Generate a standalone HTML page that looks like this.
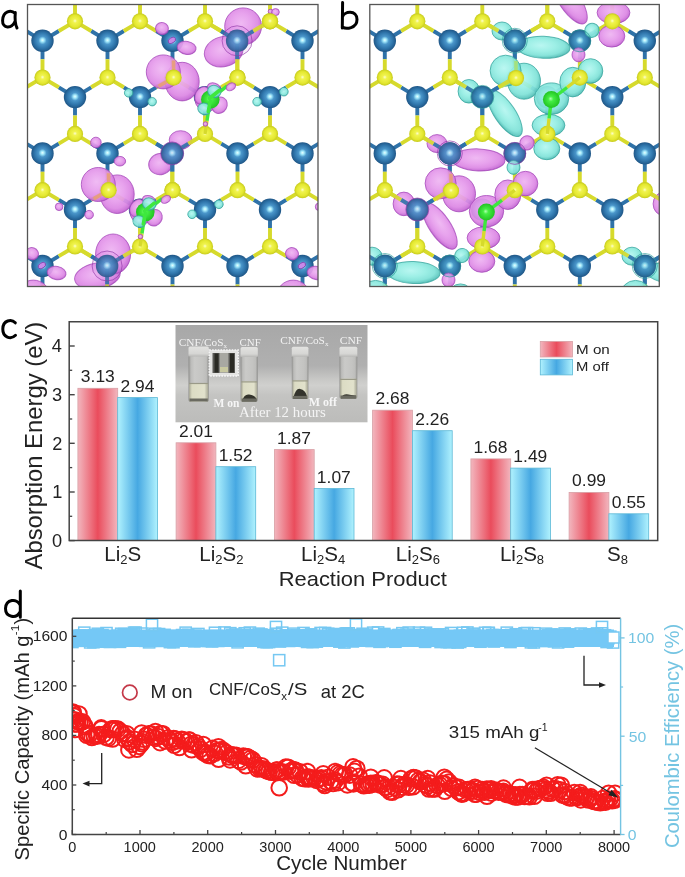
<!DOCTYPE html>
<html><head><meta charset="utf-8"><style>
html,body{margin:0;padding:0;background:#fff;overflow:hidden;}
svg{display:block;will-change:transform;}
text{font-family:"Liberation Sans",sans-serif;}
</style></head><body>
<svg width="685" height="877" viewBox="0 0 685 877">
<defs>
<radialGradient id="gb" cx="0.5" cy="0.5" r="0.5" fx="0.5" fy="0.47">
<stop offset="0" stop-color="#eaffff"/><stop offset="0.15" stop-color="#a2e8fa"/><stop offset="0.36" stop-color="#4a96ca"/><stop offset="0.72" stop-color="#2e74aa"/><stop offset="1" stop-color="#1f5686"/>
</radialGradient>
<radialGradient id="gy" cx="0.5" cy="0.5" r="0.5" fx="0.5" fy="0.47">
<stop offset="0" stop-color="#fcfdd0"/><stop offset="0.25" stop-color="#f0f350"/><stop offset="0.72" stop-color="#e4e830"/><stop offset="1" stop-color="#c6ca1e"/>
</radialGradient>
<radialGradient id="gg" cx="0.5" cy="0.5" r="0.5" fx="0.45" fy="0.45">
<stop offset="0" stop-color="#b0ffb0"/><stop offset="0.3" stop-color="#44ee44"/><stop offset="1" stop-color="#22c422"/>
</radialGradient>
<linearGradient id="gr" x1="0" x2="1" y1="0" y2="0">
<stop offset="0" stop-color="#f2b6be"/><stop offset="0.5" stop-color="#ea4c5c"/><stop offset="1" stop-color="#f2b6be"/>
</linearGradient>
<linearGradient id="gc" x1="0" x2="1" y1="0" y2="0">
<stop offset="0" stop-color="#b0f2fe"/><stop offset="0.5" stop-color="#46a8e2"/><stop offset="1" stop-color="#b0f2fe"/>
</linearGradient>
<radialGradient id="pp" cx="0.45" cy="0.42" r="0.6">
<stop offset="0" stop-color="#eeb4f2"/><stop offset="0.45" stop-color="#e69cec"/><stop offset="0.75" stop-color="#dc88e4"/><stop offset="0.92" stop-color="#c86cd6"/><stop offset="1" stop-color="#a848bc"/>
</radialGradient>
<radialGradient id="pc" cx="0.45" cy="0.42" r="0.6">
<stop offset="0" stop-color="#b4f6f0"/><stop offset="0.45" stop-color="#96eee4"/><stop offset="0.75" stop-color="#80e2d8"/><stop offset="0.92" stop-color="#5cc6be"/><stop offset="1" stop-color="#3aa8a0"/>
</radialGradient>
<clipPath id="ca"><rect x="27.5" y="4.5" width="290.5" height="282"/></clipPath>
<clipPath id="cb"><rect x="369.8" y="4.5" width="289.5" height="282"/></clipPath>
</defs>
<rect width="685" height="877" fill="#fff"/>

<g clip-path="url(#ca)"><g transform="translate(0,0)">
<path d="M-55.0 -15.5L-55.0 2.9M-55.0 -15.5L-71.2 -25.2M-55.0 -15.5L-38.8 -25.2M10.0 -15.5L10.0 2.9M10.0 -15.5L-6.2 -25.2M10.0 -15.5L26.2 -25.2M75.0 -15.5L75.0 2.9M75.0 -15.5L58.8 -25.2M75.0 -15.5L91.2 -25.2M140.0 -15.5L140.0 2.9M140.0 -15.5L123.8 -25.2M140.0 -15.5L156.2 -25.2M205.0 -15.5L205.0 2.9M205.0 -15.5L188.8 -25.2M205.0 -15.5L221.2 -25.2M270.0 -15.5L270.0 2.9M270.0 -15.5L253.8 -25.2M270.0 -15.5L286.2 -25.2M335.0 -15.5L335.0 2.9M335.0 -15.5L318.8 -25.2M335.0 -15.5L351.2 -25.2M400.0 -15.5L400.0 2.9M400.0 -15.5L383.8 -25.2M400.0 -15.5L416.2 -25.2M465.0 -15.5L465.0 2.9M465.0 -15.5L448.8 -25.2M465.0 -15.5L481.2 -25.2M-87.5 40.8L-87.5 59.2M-87.5 40.8L-103.8 31.0M-87.5 40.8L-71.2 31.0M-22.5 40.8L-22.5 59.2M-22.5 40.8L-38.8 31.0M-22.5 40.8L-6.2 31.0M42.5 40.8L42.5 59.2M42.5 40.8L26.2 31.0M42.5 40.8L58.8 31.0M107.5 40.8L107.5 59.2M107.5 40.8L91.2 31.0M107.5 40.8L123.8 31.0M172.5 40.8L172.5 59.2M172.5 40.8L156.2 31.0M172.5 40.8L188.8 31.0M237.5 40.8L237.5 59.2M237.5 40.8L221.2 31.0M237.5 40.8L253.8 31.0M302.5 40.8L302.5 59.2M302.5 40.8L286.2 31.0M302.5 40.8L318.8 31.0M367.5 40.8L367.5 59.2M367.5 40.8L351.2 31.0M367.5 40.8L383.8 31.0M432.5 40.8L432.5 59.2M432.5 40.8L416.2 31.0M432.5 40.8L448.8 31.0M-55.0 97.1L-55.0 115.5M-55.0 97.1L-71.2 87.3M-55.0 97.1L-38.8 87.3M10.0 97.1L10.0 115.5M10.0 97.1L-6.2 87.3M10.0 97.1L26.2 87.3M75.0 97.1L75.0 115.5M75.0 97.1L58.8 87.3M75.0 97.1L91.2 87.3M140.0 97.1L140.0 115.5M140.0 97.1L123.8 87.3M140.0 97.1L156.2 87.3M205.0 97.1L205.0 115.5M205.0 97.1L188.8 87.3M205.0 97.1L221.2 87.3M270.0 97.1L270.0 115.5M270.0 97.1L253.8 87.3M270.0 97.1L286.2 87.3M335.0 97.1L335.0 115.5M335.0 97.1L318.8 87.3M335.0 97.1L351.2 87.3M400.0 97.1L400.0 115.5M400.0 97.1L383.8 87.3M400.0 97.1L416.2 87.3M465.0 97.1L465.0 115.5M465.0 97.1L448.8 87.3M465.0 97.1L481.2 87.3M-87.5 153.4L-87.5 171.8M-87.5 153.4L-103.8 143.6M-87.5 153.4L-71.2 143.6M-22.5 153.4L-22.5 171.8M-22.5 153.4L-38.8 143.6M-22.5 153.4L-6.2 143.6M42.5 153.4L42.5 171.8M42.5 153.4L26.2 143.6M42.5 153.4L58.8 143.6M107.5 153.4L107.5 171.8M107.5 153.4L91.2 143.6M107.5 153.4L123.8 143.6M172.5 153.4L172.5 171.8M172.5 153.4L156.2 143.6M172.5 153.4L188.8 143.6M237.5 153.4L237.5 171.8M237.5 153.4L221.2 143.6M237.5 153.4L253.8 143.6M302.5 153.4L302.5 171.8M302.5 153.4L286.2 143.6M302.5 153.4L318.8 143.6M367.5 153.4L367.5 171.8M367.5 153.4L351.2 143.6M367.5 153.4L383.8 143.6M432.5 153.4L432.5 171.8M432.5 153.4L416.2 143.6M432.5 153.4L448.8 143.6M-55.0 209.7L-55.0 228.1M-55.0 209.7L-71.2 199.9M-55.0 209.7L-38.8 199.9M10.0 209.7L10.0 228.1M10.0 209.7L-6.2 199.9M10.0 209.7L26.2 199.9M75.0 209.7L75.0 228.1M75.0 209.7L58.8 199.9M75.0 209.7L91.2 199.9M140.0 209.7L140.0 228.1M140.0 209.7L123.8 199.9M140.0 209.7L156.2 199.9M205.0 209.7L205.0 228.1M205.0 209.7L188.8 199.9M205.0 209.7L221.2 199.9M270.0 209.7L270.0 228.1M270.0 209.7L253.8 199.9M270.0 209.7L286.2 199.9M335.0 209.7L335.0 228.1M335.0 209.7L318.8 199.9M335.0 209.7L351.2 199.9M400.0 209.7L400.0 228.1M400.0 209.7L383.8 199.9M400.0 209.7L416.2 199.9M465.0 209.7L465.0 228.1M465.0 209.7L448.8 199.9M465.0 209.7L481.2 199.9M-87.5 266.0L-87.5 284.4M-87.5 266.0L-103.8 256.2M-87.5 266.0L-71.2 256.2M-22.5 266.0L-22.5 284.4M-22.5 266.0L-38.8 256.2M-22.5 266.0L-6.2 256.2M42.5 266.0L42.5 284.4M42.5 266.0L26.2 256.2M42.5 266.0L58.8 256.2M107.5 266.0L107.5 284.4M107.5 266.0L91.2 256.2M107.5 266.0L123.8 256.2M172.5 266.0L172.5 284.4M172.5 266.0L156.2 256.2M172.5 266.0L188.8 256.2M237.5 266.0L237.5 284.4M237.5 266.0L221.2 256.2M237.5 266.0L253.8 256.2M302.5 266.0L302.5 284.4M302.5 266.0L286.2 256.2M302.5 266.0L318.8 256.2M367.5 266.0L367.5 284.4M367.5 266.0L351.2 256.2M367.5 266.0L383.8 256.2M432.5 266.0L432.5 284.4M432.5 266.0L416.2 256.2M432.5 266.0L448.8 256.2M-55.0 322.3L-55.0 340.7M-55.0 322.3L-71.2 312.6M-55.0 322.3L-38.8 312.6M10.0 322.3L10.0 340.7M10.0 322.3L-6.2 312.6M10.0 322.3L26.2 312.6M75.0 322.3L75.0 340.7M75.0 322.3L58.8 312.6M75.0 322.3L91.2 312.6M140.0 322.3L140.0 340.7M140.0 322.3L123.8 312.6M140.0 322.3L156.2 312.6M205.0 322.3L205.0 340.7M205.0 322.3L188.8 312.6M205.0 322.3L221.2 312.6M270.0 322.3L270.0 340.7M270.0 322.3L253.8 312.6M270.0 322.3L286.2 312.6M335.0 322.3L335.0 340.7M335.0 322.3L318.8 312.6M335.0 322.3L351.2 312.6M400.0 322.3L400.0 340.7M400.0 322.3L383.8 312.6M400.0 322.3L416.2 312.6M465.0 322.3L465.0 340.7M465.0 322.3L448.8 312.6M465.0 322.3L481.2 312.6" stroke="#2f72a8" stroke-width="3.9" fill="none"/>
<path d="M-55.0 2.9L-55.0 21.3M-71.2 -25.2L-87.5 -35.0M-38.8 -25.2L-22.5 -35.0M10.0 2.9L10.0 21.3M-6.2 -25.2L-22.5 -35.0M26.2 -25.2L42.5 -35.0M75.0 2.9L75.0 21.3M58.8 -25.2L42.5 -35.0M91.2 -25.2L107.5 -35.0M140.0 2.9L140.0 21.3M123.8 -25.2L107.5 -35.0M156.2 -25.2L172.5 -35.0M205.0 2.9L205.0 21.3M188.8 -25.2L172.5 -35.0M221.2 -25.2L237.5 -35.0M270.0 2.9L270.0 21.3M253.8 -25.2L237.5 -35.0M286.2 -25.2L302.5 -35.0M335.0 2.9L335.0 21.3M318.8 -25.2L302.5 -35.0M351.2 -25.2L367.5 -35.0M400.0 2.9L400.0 21.3M383.8 -25.2L367.5 -35.0M416.2 -25.2L432.5 -35.0M465.0 2.9L465.0 21.3M448.8 -25.2L432.5 -35.0M481.2 -25.2L497.5 -35.0M-87.5 59.2L-87.5 77.6M-103.8 31.0L-120.0 21.3M-71.2 31.0L-55.0 21.3M-22.5 59.2L-22.5 77.6M-38.8 31.0L-55.0 21.3M-6.2 31.0L10.0 21.3M42.5 59.2L42.5 77.6M26.2 31.0L10.0 21.3M58.8 31.0L75.0 21.3M107.5 59.2L107.5 77.6M91.2 31.0L75.0 21.3M123.8 31.0L140.0 21.3M172.5 59.2L172.5 77.6M156.2 31.0L140.0 21.3M188.8 31.0L205.0 21.3M237.5 59.2L237.5 77.6M221.2 31.0L205.0 21.3M253.8 31.0L270.0 21.3M302.5 59.2L302.5 77.6M286.2 31.0L270.0 21.3M318.8 31.0L335.0 21.3M367.5 59.2L367.5 77.6M351.2 31.0L335.0 21.3M383.8 31.0L400.0 21.3M432.5 59.2L432.5 77.6M416.2 31.0L400.0 21.3M448.8 31.0L465.0 21.3M-55.0 115.5L-55.0 133.9M-71.2 87.3L-87.5 77.6M-38.8 87.3L-22.5 77.6M10.0 115.5L10.0 133.9M-6.2 87.3L-22.5 77.6M26.2 87.3L42.5 77.6M75.0 115.5L75.0 133.9M58.8 87.3L42.5 77.6M91.2 87.3L107.5 77.6M140.0 115.5L140.0 133.9M123.8 87.3L107.5 77.6M156.2 87.3L172.5 77.6M205.0 115.5L205.0 133.9M188.8 87.3L172.5 77.6M221.2 87.3L237.5 77.6M270.0 115.5L270.0 133.9M253.8 87.3L237.5 77.6M286.2 87.3L302.5 77.6M335.0 115.5L335.0 133.9M318.8 87.3L302.5 77.6M351.2 87.3L367.5 77.6M400.0 115.5L400.0 133.9M383.8 87.3L367.5 77.6M416.2 87.3L432.5 77.6M465.0 115.5L465.0 133.9M448.8 87.3L432.5 77.6M481.2 87.3L497.5 77.6M-87.5 171.8L-87.5 190.2M-103.8 143.6L-120.0 133.9M-71.2 143.6L-55.0 133.9M-22.5 171.8L-22.5 190.2M-38.8 143.6L-55.0 133.9M-6.2 143.6L10.0 133.9M42.5 171.8L42.5 190.2M26.2 143.6L10.0 133.9M58.8 143.6L75.0 133.9M107.5 171.8L107.5 190.2M91.2 143.6L75.0 133.9M123.8 143.6L140.0 133.9M172.5 171.8L172.5 190.2M156.2 143.6L140.0 133.9M188.8 143.6L205.0 133.9M237.5 171.8L237.5 190.2M221.2 143.6L205.0 133.9M253.8 143.6L270.0 133.9M302.5 171.8L302.5 190.2M286.2 143.6L270.0 133.9M318.8 143.6L335.0 133.9M367.5 171.8L367.5 190.2M351.2 143.6L335.0 133.9M383.8 143.6L400.0 133.9M432.5 171.8L432.5 190.2M416.2 143.6L400.0 133.9M448.8 143.6L465.0 133.9M-55.0 228.1L-55.0 246.5M-71.2 199.9L-87.5 190.2M-38.8 199.9L-22.5 190.2M10.0 228.1L10.0 246.5M-6.2 199.9L-22.5 190.2M26.2 199.9L42.5 190.2M75.0 228.1L75.0 246.5M58.8 199.9L42.5 190.2M91.2 199.9L107.5 190.2M140.0 228.1L140.0 246.5M123.8 199.9L107.5 190.2M156.2 199.9L172.5 190.2M205.0 228.1L205.0 246.5M188.8 199.9L172.5 190.2M221.2 199.9L237.5 190.2M270.0 228.1L270.0 246.5M253.8 199.9L237.5 190.2M286.2 199.9L302.5 190.2M335.0 228.1L335.0 246.5M318.8 199.9L302.5 190.2M351.2 199.9L367.5 190.2M400.0 228.1L400.0 246.5M383.8 199.9L367.5 190.2M416.2 199.9L432.5 190.2M465.0 228.1L465.0 246.5M448.8 199.9L432.5 190.2M481.2 199.9L497.5 190.2M-87.5 284.4L-87.5 302.8M-103.8 256.2L-120.0 246.5M-71.2 256.2L-55.0 246.5M-22.5 284.4L-22.5 302.8M-38.8 256.2L-55.0 246.5M-6.2 256.2L10.0 246.5M42.5 284.4L42.5 302.8M26.2 256.2L10.0 246.5M58.8 256.2L75.0 246.5M107.5 284.4L107.5 302.8M91.2 256.2L75.0 246.5M123.8 256.2L140.0 246.5M172.5 284.4L172.5 302.8M156.2 256.2L140.0 246.5M188.8 256.2L205.0 246.5M237.5 284.4L237.5 302.8M221.2 256.2L205.0 246.5M253.8 256.2L270.0 246.5M302.5 284.4L302.5 302.8M286.2 256.2L270.0 246.5M318.8 256.2L335.0 246.5M367.5 284.4L367.5 302.8M351.2 256.2L335.0 246.5M383.8 256.2L400.0 246.5M432.5 284.4L432.5 302.8M416.2 256.2L400.0 246.5M448.8 256.2L465.0 246.5M-55.0 340.7L-55.0 359.1M-71.2 312.6L-87.5 302.8M-38.8 312.6L-22.5 302.8M10.0 340.7L10.0 359.1M-6.2 312.6L-22.5 302.8M26.2 312.6L42.5 302.8M75.0 340.7L75.0 359.1M58.8 312.6L42.5 302.8M91.2 312.6L107.5 302.8M140.0 340.7L140.0 359.1M123.8 312.6L107.5 302.8M156.2 312.6L172.5 302.8M205.0 340.7L205.0 359.1M188.8 312.6L172.5 302.8M221.2 312.6L237.5 302.8M270.0 340.7L270.0 359.1M253.8 312.6L237.5 302.8M286.2 312.6L302.5 302.8M335.0 340.7L335.0 359.1M318.8 312.6L302.5 302.8M351.2 312.6L367.5 302.8M400.0 340.7L400.0 359.1M383.8 312.6L367.5 302.8M416.2 312.6L432.5 302.8M465.0 340.7L465.0 359.1M448.8 312.6L432.5 302.8M481.2 312.6L497.5 302.8" stroke="#d6da2c" stroke-width="3.9" fill="none"/>
<circle cx="-87.5" cy="-35.0" r="8.1" fill="url(#gy)" fill-opacity="1"/>
<circle cx="-22.5" cy="-35.0" r="8.1" fill="url(#gy)" fill-opacity="1"/>
<circle cx="42.5" cy="-35.0" r="8.1" fill="url(#gy)" fill-opacity="1"/>
<circle cx="107.5" cy="-35.0" r="8.1" fill="url(#gy)" fill-opacity="1"/>
<circle cx="172.5" cy="-35.0" r="8.1" fill="url(#gy)" fill-opacity="1"/>
<circle cx="237.5" cy="-35.0" r="8.1" fill="url(#gy)" fill-opacity="1"/>
<circle cx="302.5" cy="-35.0" r="8.1" fill="url(#gy)" fill-opacity="1"/>
<circle cx="367.5" cy="-35.0" r="8.1" fill="url(#gy)" fill-opacity="1"/>
<circle cx="432.5" cy="-35.0" r="8.1" fill="url(#gy)" fill-opacity="1"/>
<circle cx="-55.0" cy="21.3" r="8.1" fill="url(#gy)" fill-opacity="1"/>
<circle cx="10.0" cy="21.3" r="8.1" fill="url(#gy)" fill-opacity="1"/>
<circle cx="75.0" cy="21.3" r="8.1" fill="url(#gy)" fill-opacity="1"/>
<circle cx="140.0" cy="21.3" r="8.1" fill="url(#gy)" fill-opacity="1"/>
<circle cx="205.0" cy="21.3" r="8.1" fill="url(#gy)" fill-opacity="1"/>
<circle cx="270.0" cy="21.3" r="8.1" fill="url(#gy)" fill-opacity="1"/>
<circle cx="335.0" cy="21.3" r="8.1" fill="url(#gy)" fill-opacity="1"/>
<circle cx="400.0" cy="21.3" r="8.1" fill="url(#gy)" fill-opacity="1"/>
<circle cx="465.0" cy="21.3" r="8.1" fill="url(#gy)" fill-opacity="1"/>
<circle cx="-87.5" cy="77.6" r="8.1" fill="url(#gy)" fill-opacity="1"/>
<circle cx="-22.5" cy="77.6" r="8.1" fill="url(#gy)" fill-opacity="1"/>
<circle cx="42.5" cy="77.6" r="8.1" fill="url(#gy)" fill-opacity="1"/>
<circle cx="107.5" cy="77.6" r="8.1" fill="url(#gy)" fill-opacity="1"/>
<circle cx="172.5" cy="77.6" r="8.1" fill="url(#gy)" fill-opacity="1"/>
<circle cx="237.5" cy="77.6" r="8.1" fill="url(#gy)" fill-opacity="1"/>
<circle cx="302.5" cy="77.6" r="8.1" fill="url(#gy)" fill-opacity="1"/>
<circle cx="367.5" cy="77.6" r="8.1" fill="url(#gy)" fill-opacity="1"/>
<circle cx="432.5" cy="77.6" r="8.1" fill="url(#gy)" fill-opacity="1"/>
<circle cx="-55.0" cy="133.9" r="8.1" fill="url(#gy)" fill-opacity="1"/>
<circle cx="10.0" cy="133.9" r="8.1" fill="url(#gy)" fill-opacity="1"/>
<circle cx="75.0" cy="133.9" r="8.1" fill="url(#gy)" fill-opacity="1"/>
<circle cx="140.0" cy="133.9" r="8.1" fill="url(#gy)" fill-opacity="1"/>
<circle cx="205.0" cy="133.9" r="8.1" fill="url(#gy)" fill-opacity="1"/>
<circle cx="270.0" cy="133.9" r="8.1" fill="url(#gy)" fill-opacity="1"/>
<circle cx="335.0" cy="133.9" r="8.1" fill="url(#gy)" fill-opacity="1"/>
<circle cx="400.0" cy="133.9" r="8.1" fill="url(#gy)" fill-opacity="1"/>
<circle cx="465.0" cy="133.9" r="8.1" fill="url(#gy)" fill-opacity="1"/>
<circle cx="-87.5" cy="190.2" r="8.1" fill="url(#gy)" fill-opacity="1"/>
<circle cx="-22.5" cy="190.2" r="8.1" fill="url(#gy)" fill-opacity="1"/>
<circle cx="42.5" cy="190.2" r="8.1" fill="url(#gy)" fill-opacity="1"/>
<circle cx="107.5" cy="190.2" r="8.1" fill="url(#gy)" fill-opacity="1"/>
<circle cx="172.5" cy="190.2" r="8.1" fill="url(#gy)" fill-opacity="1"/>
<circle cx="237.5" cy="190.2" r="8.1" fill="url(#gy)" fill-opacity="1"/>
<circle cx="302.5" cy="190.2" r="8.1" fill="url(#gy)" fill-opacity="1"/>
<circle cx="367.5" cy="190.2" r="8.1" fill="url(#gy)" fill-opacity="1"/>
<circle cx="432.5" cy="190.2" r="8.1" fill="url(#gy)" fill-opacity="1"/>
<circle cx="-55.0" cy="246.5" r="8.1" fill="url(#gy)" fill-opacity="1"/>
<circle cx="10.0" cy="246.5" r="8.1" fill="url(#gy)" fill-opacity="1"/>
<circle cx="75.0" cy="246.5" r="8.1" fill="url(#gy)" fill-opacity="1"/>
<circle cx="140.0" cy="246.5" r="8.1" fill="url(#gy)" fill-opacity="1"/>
<circle cx="205.0" cy="246.5" r="8.1" fill="url(#gy)" fill-opacity="1"/>
<circle cx="270.0" cy="246.5" r="8.1" fill="url(#gy)" fill-opacity="1"/>
<circle cx="335.0" cy="246.5" r="8.1" fill="url(#gy)" fill-opacity="1"/>
<circle cx="400.0" cy="246.5" r="8.1" fill="url(#gy)" fill-opacity="1"/>
<circle cx="465.0" cy="246.5" r="8.1" fill="url(#gy)" fill-opacity="1"/>
<circle cx="-87.5" cy="302.8" r="8.1" fill="url(#gy)" fill-opacity="1"/>
<circle cx="-22.5" cy="302.8" r="8.1" fill="url(#gy)" fill-opacity="1"/>
<circle cx="42.5" cy="302.8" r="8.1" fill="url(#gy)" fill-opacity="1"/>
<circle cx="107.5" cy="302.8" r="8.1" fill="url(#gy)" fill-opacity="1"/>
<circle cx="172.5" cy="302.8" r="8.1" fill="url(#gy)" fill-opacity="1"/>
<circle cx="237.5" cy="302.8" r="8.1" fill="url(#gy)" fill-opacity="1"/>
<circle cx="302.5" cy="302.8" r="8.1" fill="url(#gy)" fill-opacity="1"/>
<circle cx="367.5" cy="302.8" r="8.1" fill="url(#gy)" fill-opacity="1"/>
<circle cx="432.5" cy="302.8" r="8.1" fill="url(#gy)" fill-opacity="1"/>
<circle cx="-55.0" cy="359.1" r="8.1" fill="url(#gy)" fill-opacity="1"/>
<circle cx="10.0" cy="359.1" r="8.1" fill="url(#gy)" fill-opacity="1"/>
<circle cx="75.0" cy="359.1" r="8.1" fill="url(#gy)" fill-opacity="1"/>
<circle cx="140.0" cy="359.1" r="8.1" fill="url(#gy)" fill-opacity="1"/>
<circle cx="205.0" cy="359.1" r="8.1" fill="url(#gy)" fill-opacity="1"/>
<circle cx="270.0" cy="359.1" r="8.1" fill="url(#gy)" fill-opacity="1"/>
<circle cx="335.0" cy="359.1" r="8.1" fill="url(#gy)" fill-opacity="1"/>
<circle cx="400.0" cy="359.1" r="8.1" fill="url(#gy)" fill-opacity="1"/>
<circle cx="465.0" cy="359.1" r="8.1" fill="url(#gy)" fill-opacity="1"/>
<circle cx="-55.0" cy="-15.5" r="11.2" fill="url(#gb)" fill-opacity="1"/>
<circle cx="10.0" cy="-15.5" r="11.2" fill="url(#gb)" fill-opacity="1"/>
<circle cx="75.0" cy="-15.5" r="11.2" fill="url(#gb)" fill-opacity="1"/>
<circle cx="140.0" cy="-15.5" r="11.2" fill="url(#gb)" fill-opacity="1"/>
<circle cx="205.0" cy="-15.5" r="11.2" fill="url(#gb)" fill-opacity="1"/>
<circle cx="270.0" cy="-15.5" r="11.2" fill="url(#gb)" fill-opacity="1"/>
<circle cx="335.0" cy="-15.5" r="11.2" fill="url(#gb)" fill-opacity="1"/>
<circle cx="400.0" cy="-15.5" r="11.2" fill="url(#gb)" fill-opacity="1"/>
<circle cx="465.0" cy="-15.5" r="11.2" fill="url(#gb)" fill-opacity="1"/>
<circle cx="-87.5" cy="40.8" r="11.2" fill="url(#gb)" fill-opacity="1"/>
<circle cx="-22.5" cy="40.8" r="11.2" fill="url(#gb)" fill-opacity="1"/>
<circle cx="42.5" cy="40.8" r="11.2" fill="url(#gb)" fill-opacity="1"/>
<circle cx="107.5" cy="40.8" r="11.2" fill="url(#gb)" fill-opacity="1"/>
<circle cx="172.5" cy="40.8" r="11.2" fill="url(#gb)" fill-opacity="1"/>
<circle cx="237.5" cy="40.8" r="11.2" fill="url(#gb)" fill-opacity="1"/>
<circle cx="302.5" cy="40.8" r="11.2" fill="url(#gb)" fill-opacity="1"/>
<circle cx="367.5" cy="40.8" r="11.2" fill="url(#gb)" fill-opacity="1"/>
<circle cx="432.5" cy="40.8" r="11.2" fill="url(#gb)" fill-opacity="1"/>
<circle cx="-55.0" cy="97.1" r="11.2" fill="url(#gb)" fill-opacity="1"/>
<circle cx="10.0" cy="97.1" r="11.2" fill="url(#gb)" fill-opacity="1"/>
<circle cx="75.0" cy="97.1" r="11.2" fill="url(#gb)" fill-opacity="1"/>
<circle cx="140.0" cy="97.1" r="11.2" fill="url(#gb)" fill-opacity="1"/>
<circle cx="205.0" cy="97.1" r="11.2" fill="url(#gb)" fill-opacity="1"/>
<circle cx="270.0" cy="97.1" r="11.2" fill="url(#gb)" fill-opacity="1"/>
<circle cx="335.0" cy="97.1" r="11.2" fill="url(#gb)" fill-opacity="1"/>
<circle cx="400.0" cy="97.1" r="11.2" fill="url(#gb)" fill-opacity="1"/>
<circle cx="465.0" cy="97.1" r="11.2" fill="url(#gb)" fill-opacity="1"/>
<circle cx="-87.5" cy="153.4" r="11.2" fill="url(#gb)" fill-opacity="1"/>
<circle cx="-22.5" cy="153.4" r="11.2" fill="url(#gb)" fill-opacity="1"/>
<circle cx="42.5" cy="153.4" r="11.2" fill="url(#gb)" fill-opacity="1"/>
<circle cx="107.5" cy="153.4" r="11.2" fill="url(#gb)" fill-opacity="1"/>
<circle cx="172.5" cy="153.4" r="11.2" fill="url(#gb)" fill-opacity="1"/>
<circle cx="237.5" cy="153.4" r="11.2" fill="url(#gb)" fill-opacity="1"/>
<circle cx="302.5" cy="153.4" r="11.2" fill="url(#gb)" fill-opacity="1"/>
<circle cx="367.5" cy="153.4" r="11.2" fill="url(#gb)" fill-opacity="1"/>
<circle cx="432.5" cy="153.4" r="11.2" fill="url(#gb)" fill-opacity="1"/>
<circle cx="-55.0" cy="209.7" r="11.2" fill="url(#gb)" fill-opacity="1"/>
<circle cx="10.0" cy="209.7" r="11.2" fill="url(#gb)" fill-opacity="1"/>
<circle cx="75.0" cy="209.7" r="11.2" fill="url(#gb)" fill-opacity="1"/>
<circle cx="140.0" cy="209.7" r="11.2" fill="url(#gb)" fill-opacity="1"/>
<circle cx="205.0" cy="209.7" r="11.2" fill="url(#gb)" fill-opacity="1"/>
<circle cx="270.0" cy="209.7" r="11.2" fill="url(#gb)" fill-opacity="1"/>
<circle cx="335.0" cy="209.7" r="11.2" fill="url(#gb)" fill-opacity="1"/>
<circle cx="400.0" cy="209.7" r="11.2" fill="url(#gb)" fill-opacity="1"/>
<circle cx="465.0" cy="209.7" r="11.2" fill="url(#gb)" fill-opacity="1"/>
<circle cx="-87.5" cy="266.0" r="11.2" fill="url(#gb)" fill-opacity="1"/>
<circle cx="-22.5" cy="266.0" r="11.2" fill="url(#gb)" fill-opacity="1"/>
<circle cx="42.5" cy="266.0" r="11.2" fill="url(#gb)" fill-opacity="1"/>
<circle cx="107.5" cy="266.0" r="11.2" fill="url(#gb)" fill-opacity="1"/>
<circle cx="172.5" cy="266.0" r="11.2" fill="url(#gb)" fill-opacity="1"/>
<circle cx="237.5" cy="266.0" r="11.2" fill="url(#gb)" fill-opacity="1"/>
<circle cx="302.5" cy="266.0" r="11.2" fill="url(#gb)" fill-opacity="1"/>
<circle cx="367.5" cy="266.0" r="11.2" fill="url(#gb)" fill-opacity="1"/>
<circle cx="432.5" cy="266.0" r="11.2" fill="url(#gb)" fill-opacity="1"/>
<circle cx="-55.0" cy="322.3" r="11.2" fill="url(#gb)" fill-opacity="1"/>
<circle cx="10.0" cy="322.3" r="11.2" fill="url(#gb)" fill-opacity="1"/>
<circle cx="75.0" cy="322.3" r="11.2" fill="url(#gb)" fill-opacity="1"/>
<circle cx="140.0" cy="322.3" r="11.2" fill="url(#gb)" fill-opacity="1"/>
<circle cx="205.0" cy="322.3" r="11.2" fill="url(#gb)" fill-opacity="1"/>
<circle cx="270.0" cy="322.3" r="11.2" fill="url(#gb)" fill-opacity="1"/>
<circle cx="335.0" cy="322.3" r="11.2" fill="url(#gb)" fill-opacity="1"/>
<circle cx="400.0" cy="322.3" r="11.2" fill="url(#gb)" fill-opacity="1"/>
<circle cx="465.0" cy="322.3" r="11.2" fill="url(#gb)" fill-opacity="1"/>
</g></g>
<g clip-path="url(#cb)"><g transform="translate(342.3,0)">
<path d="M-55.0 -15.5L-55.0 2.9M-55.0 -15.5L-71.2 -25.2M-55.0 -15.5L-38.8 -25.2M10.0 -15.5L10.0 2.9M10.0 -15.5L-6.2 -25.2M10.0 -15.5L26.2 -25.2M75.0 -15.5L75.0 2.9M75.0 -15.5L58.8 -25.2M75.0 -15.5L91.2 -25.2M140.0 -15.5L140.0 2.9M140.0 -15.5L123.8 -25.2M140.0 -15.5L156.2 -25.2M205.0 -15.5L205.0 2.9M205.0 -15.5L188.8 -25.2M205.0 -15.5L221.2 -25.2M270.0 -15.5L270.0 2.9M270.0 -15.5L253.8 -25.2M270.0 -15.5L286.2 -25.2M335.0 -15.5L335.0 2.9M335.0 -15.5L318.8 -25.2M335.0 -15.5L351.2 -25.2M400.0 -15.5L400.0 2.9M400.0 -15.5L383.8 -25.2M400.0 -15.5L416.2 -25.2M465.0 -15.5L465.0 2.9M465.0 -15.5L448.8 -25.2M465.0 -15.5L481.2 -25.2M-87.5 40.8L-87.5 59.2M-87.5 40.8L-103.8 31.0M-87.5 40.8L-71.2 31.0M-22.5 40.8L-22.5 59.2M-22.5 40.8L-38.8 31.0M-22.5 40.8L-6.2 31.0M42.5 40.8L42.5 59.2M42.5 40.8L26.2 31.0M42.5 40.8L58.8 31.0M107.5 40.8L107.5 59.2M107.5 40.8L91.2 31.0M107.5 40.8L123.8 31.0M172.5 40.8L172.5 59.2M172.5 40.8L156.2 31.0M172.5 40.8L188.8 31.0M237.5 40.8L237.5 59.2M237.5 40.8L221.2 31.0M237.5 40.8L253.8 31.0M302.5 40.8L302.5 59.2M302.5 40.8L286.2 31.0M302.5 40.8L318.8 31.0M367.5 40.8L367.5 59.2M367.5 40.8L351.2 31.0M367.5 40.8L383.8 31.0M432.5 40.8L432.5 59.2M432.5 40.8L416.2 31.0M432.5 40.8L448.8 31.0M-55.0 97.1L-55.0 115.5M-55.0 97.1L-71.2 87.3M-55.0 97.1L-38.8 87.3M10.0 97.1L10.0 115.5M10.0 97.1L-6.2 87.3M10.0 97.1L26.2 87.3M75.0 97.1L75.0 115.5M75.0 97.1L58.8 87.3M75.0 97.1L91.2 87.3M140.0 97.1L140.0 115.5M140.0 97.1L123.8 87.3M140.0 97.1L156.2 87.3M205.0 97.1L205.0 115.5M205.0 97.1L188.8 87.3M205.0 97.1L221.2 87.3M270.0 97.1L270.0 115.5M270.0 97.1L253.8 87.3M270.0 97.1L286.2 87.3M335.0 97.1L335.0 115.5M335.0 97.1L318.8 87.3M335.0 97.1L351.2 87.3M400.0 97.1L400.0 115.5M400.0 97.1L383.8 87.3M400.0 97.1L416.2 87.3M465.0 97.1L465.0 115.5M465.0 97.1L448.8 87.3M465.0 97.1L481.2 87.3M-87.5 153.4L-87.5 171.8M-87.5 153.4L-103.8 143.6M-87.5 153.4L-71.2 143.6M-22.5 153.4L-22.5 171.8M-22.5 153.4L-38.8 143.6M-22.5 153.4L-6.2 143.6M42.5 153.4L42.5 171.8M42.5 153.4L26.2 143.6M42.5 153.4L58.8 143.6M107.5 153.4L107.5 171.8M107.5 153.4L91.2 143.6M107.5 153.4L123.8 143.6M172.5 153.4L172.5 171.8M172.5 153.4L156.2 143.6M172.5 153.4L188.8 143.6M237.5 153.4L237.5 171.8M237.5 153.4L221.2 143.6M237.5 153.4L253.8 143.6M302.5 153.4L302.5 171.8M302.5 153.4L286.2 143.6M302.5 153.4L318.8 143.6M367.5 153.4L367.5 171.8M367.5 153.4L351.2 143.6M367.5 153.4L383.8 143.6M432.5 153.4L432.5 171.8M432.5 153.4L416.2 143.6M432.5 153.4L448.8 143.6M-55.0 209.7L-55.0 228.1M-55.0 209.7L-71.2 199.9M-55.0 209.7L-38.8 199.9M10.0 209.7L10.0 228.1M10.0 209.7L-6.2 199.9M10.0 209.7L26.2 199.9M75.0 209.7L75.0 228.1M75.0 209.7L58.8 199.9M75.0 209.7L91.2 199.9M140.0 209.7L140.0 228.1M140.0 209.7L123.8 199.9M140.0 209.7L156.2 199.9M205.0 209.7L205.0 228.1M205.0 209.7L188.8 199.9M205.0 209.7L221.2 199.9M270.0 209.7L270.0 228.1M270.0 209.7L253.8 199.9M270.0 209.7L286.2 199.9M335.0 209.7L335.0 228.1M335.0 209.7L318.8 199.9M335.0 209.7L351.2 199.9M400.0 209.7L400.0 228.1M400.0 209.7L383.8 199.9M400.0 209.7L416.2 199.9M465.0 209.7L465.0 228.1M465.0 209.7L448.8 199.9M465.0 209.7L481.2 199.9M-87.5 266.0L-87.5 284.4M-87.5 266.0L-103.8 256.2M-87.5 266.0L-71.2 256.2M-22.5 266.0L-22.5 284.4M-22.5 266.0L-38.8 256.2M-22.5 266.0L-6.2 256.2M42.5 266.0L42.5 284.4M42.5 266.0L26.2 256.2M42.5 266.0L58.8 256.2M107.5 266.0L107.5 284.4M107.5 266.0L91.2 256.2M107.5 266.0L123.8 256.2M172.5 266.0L172.5 284.4M172.5 266.0L156.2 256.2M172.5 266.0L188.8 256.2M237.5 266.0L237.5 284.4M237.5 266.0L221.2 256.2M237.5 266.0L253.8 256.2M302.5 266.0L302.5 284.4M302.5 266.0L286.2 256.2M302.5 266.0L318.8 256.2M367.5 266.0L367.5 284.4M367.5 266.0L351.2 256.2M367.5 266.0L383.8 256.2M432.5 266.0L432.5 284.4M432.5 266.0L416.2 256.2M432.5 266.0L448.8 256.2M-55.0 322.3L-55.0 340.7M-55.0 322.3L-71.2 312.6M-55.0 322.3L-38.8 312.6M10.0 322.3L10.0 340.7M10.0 322.3L-6.2 312.6M10.0 322.3L26.2 312.6M75.0 322.3L75.0 340.7M75.0 322.3L58.8 312.6M75.0 322.3L91.2 312.6M140.0 322.3L140.0 340.7M140.0 322.3L123.8 312.6M140.0 322.3L156.2 312.6M205.0 322.3L205.0 340.7M205.0 322.3L188.8 312.6M205.0 322.3L221.2 312.6M270.0 322.3L270.0 340.7M270.0 322.3L253.8 312.6M270.0 322.3L286.2 312.6M335.0 322.3L335.0 340.7M335.0 322.3L318.8 312.6M335.0 322.3L351.2 312.6M400.0 322.3L400.0 340.7M400.0 322.3L383.8 312.6M400.0 322.3L416.2 312.6M465.0 322.3L465.0 340.7M465.0 322.3L448.8 312.6M465.0 322.3L481.2 312.6" stroke="#2f72a8" stroke-width="3.9" fill="none"/>
<path d="M-55.0 2.9L-55.0 21.3M-71.2 -25.2L-87.5 -35.0M-38.8 -25.2L-22.5 -35.0M10.0 2.9L10.0 21.3M-6.2 -25.2L-22.5 -35.0M26.2 -25.2L42.5 -35.0M75.0 2.9L75.0 21.3M58.8 -25.2L42.5 -35.0M91.2 -25.2L107.5 -35.0M140.0 2.9L140.0 21.3M123.8 -25.2L107.5 -35.0M156.2 -25.2L172.5 -35.0M205.0 2.9L205.0 21.3M188.8 -25.2L172.5 -35.0M221.2 -25.2L237.5 -35.0M270.0 2.9L270.0 21.3M253.8 -25.2L237.5 -35.0M286.2 -25.2L302.5 -35.0M335.0 2.9L335.0 21.3M318.8 -25.2L302.5 -35.0M351.2 -25.2L367.5 -35.0M400.0 2.9L400.0 21.3M383.8 -25.2L367.5 -35.0M416.2 -25.2L432.5 -35.0M465.0 2.9L465.0 21.3M448.8 -25.2L432.5 -35.0M481.2 -25.2L497.5 -35.0M-87.5 59.2L-87.5 77.6M-103.8 31.0L-120.0 21.3M-71.2 31.0L-55.0 21.3M-22.5 59.2L-22.5 77.6M-38.8 31.0L-55.0 21.3M-6.2 31.0L10.0 21.3M42.5 59.2L42.5 77.6M26.2 31.0L10.0 21.3M58.8 31.0L75.0 21.3M107.5 59.2L107.5 77.6M91.2 31.0L75.0 21.3M123.8 31.0L140.0 21.3M172.5 59.2L172.5 77.6M156.2 31.0L140.0 21.3M188.8 31.0L205.0 21.3M237.5 59.2L237.5 77.6M221.2 31.0L205.0 21.3M253.8 31.0L270.0 21.3M302.5 59.2L302.5 77.6M286.2 31.0L270.0 21.3M318.8 31.0L335.0 21.3M367.5 59.2L367.5 77.6M351.2 31.0L335.0 21.3M383.8 31.0L400.0 21.3M432.5 59.2L432.5 77.6M416.2 31.0L400.0 21.3M448.8 31.0L465.0 21.3M-55.0 115.5L-55.0 133.9M-71.2 87.3L-87.5 77.6M-38.8 87.3L-22.5 77.6M10.0 115.5L10.0 133.9M-6.2 87.3L-22.5 77.6M26.2 87.3L42.5 77.6M75.0 115.5L75.0 133.9M58.8 87.3L42.5 77.6M91.2 87.3L107.5 77.6M140.0 115.5L140.0 133.9M123.8 87.3L107.5 77.6M156.2 87.3L172.5 77.6M205.0 115.5L205.0 133.9M188.8 87.3L172.5 77.6M221.2 87.3L237.5 77.6M270.0 115.5L270.0 133.9M253.8 87.3L237.5 77.6M286.2 87.3L302.5 77.6M335.0 115.5L335.0 133.9M318.8 87.3L302.5 77.6M351.2 87.3L367.5 77.6M400.0 115.5L400.0 133.9M383.8 87.3L367.5 77.6M416.2 87.3L432.5 77.6M465.0 115.5L465.0 133.9M448.8 87.3L432.5 77.6M481.2 87.3L497.5 77.6M-87.5 171.8L-87.5 190.2M-103.8 143.6L-120.0 133.9M-71.2 143.6L-55.0 133.9M-22.5 171.8L-22.5 190.2M-38.8 143.6L-55.0 133.9M-6.2 143.6L10.0 133.9M42.5 171.8L42.5 190.2M26.2 143.6L10.0 133.9M58.8 143.6L75.0 133.9M107.5 171.8L107.5 190.2M91.2 143.6L75.0 133.9M123.8 143.6L140.0 133.9M172.5 171.8L172.5 190.2M156.2 143.6L140.0 133.9M188.8 143.6L205.0 133.9M237.5 171.8L237.5 190.2M221.2 143.6L205.0 133.9M253.8 143.6L270.0 133.9M302.5 171.8L302.5 190.2M286.2 143.6L270.0 133.9M318.8 143.6L335.0 133.9M367.5 171.8L367.5 190.2M351.2 143.6L335.0 133.9M383.8 143.6L400.0 133.9M432.5 171.8L432.5 190.2M416.2 143.6L400.0 133.9M448.8 143.6L465.0 133.9M-55.0 228.1L-55.0 246.5M-71.2 199.9L-87.5 190.2M-38.8 199.9L-22.5 190.2M10.0 228.1L10.0 246.5M-6.2 199.9L-22.5 190.2M26.2 199.9L42.5 190.2M75.0 228.1L75.0 246.5M58.8 199.9L42.5 190.2M91.2 199.9L107.5 190.2M140.0 228.1L140.0 246.5M123.8 199.9L107.5 190.2M156.2 199.9L172.5 190.2M205.0 228.1L205.0 246.5M188.8 199.9L172.5 190.2M221.2 199.9L237.5 190.2M270.0 228.1L270.0 246.5M253.8 199.9L237.5 190.2M286.2 199.9L302.5 190.2M335.0 228.1L335.0 246.5M318.8 199.9L302.5 190.2M351.2 199.9L367.5 190.2M400.0 228.1L400.0 246.5M383.8 199.9L367.5 190.2M416.2 199.9L432.5 190.2M465.0 228.1L465.0 246.5M448.8 199.9L432.5 190.2M481.2 199.9L497.5 190.2M-87.5 284.4L-87.5 302.8M-103.8 256.2L-120.0 246.5M-71.2 256.2L-55.0 246.5M-22.5 284.4L-22.5 302.8M-38.8 256.2L-55.0 246.5M-6.2 256.2L10.0 246.5M42.5 284.4L42.5 302.8M26.2 256.2L10.0 246.5M58.8 256.2L75.0 246.5M107.5 284.4L107.5 302.8M91.2 256.2L75.0 246.5M123.8 256.2L140.0 246.5M172.5 284.4L172.5 302.8M156.2 256.2L140.0 246.5M188.8 256.2L205.0 246.5M237.5 284.4L237.5 302.8M221.2 256.2L205.0 246.5M253.8 256.2L270.0 246.5M302.5 284.4L302.5 302.8M286.2 256.2L270.0 246.5M318.8 256.2L335.0 246.5M367.5 284.4L367.5 302.8M351.2 256.2L335.0 246.5M383.8 256.2L400.0 246.5M432.5 284.4L432.5 302.8M416.2 256.2L400.0 246.5M448.8 256.2L465.0 246.5M-55.0 340.7L-55.0 359.1M-71.2 312.6L-87.5 302.8M-38.8 312.6L-22.5 302.8M10.0 340.7L10.0 359.1M-6.2 312.6L-22.5 302.8M26.2 312.6L42.5 302.8M75.0 340.7L75.0 359.1M58.8 312.6L42.5 302.8M91.2 312.6L107.5 302.8M140.0 340.7L140.0 359.1M123.8 312.6L107.5 302.8M156.2 312.6L172.5 302.8M205.0 340.7L205.0 359.1M188.8 312.6L172.5 302.8M221.2 312.6L237.5 302.8M270.0 340.7L270.0 359.1M253.8 312.6L237.5 302.8M286.2 312.6L302.5 302.8M335.0 340.7L335.0 359.1M318.8 312.6L302.5 302.8M351.2 312.6L367.5 302.8M400.0 340.7L400.0 359.1M383.8 312.6L367.5 302.8M416.2 312.6L432.5 302.8M465.0 340.7L465.0 359.1M448.8 312.6L432.5 302.8M481.2 312.6L497.5 302.8" stroke="#d6da2c" stroke-width="3.9" fill="none"/>
<circle cx="-87.5" cy="-35.0" r="8.1" fill="url(#gy)" fill-opacity="1"/>
<circle cx="-22.5" cy="-35.0" r="8.1" fill="url(#gy)" fill-opacity="1"/>
<circle cx="42.5" cy="-35.0" r="8.1" fill="url(#gy)" fill-opacity="1"/>
<circle cx="107.5" cy="-35.0" r="8.1" fill="url(#gy)" fill-opacity="1"/>
<circle cx="172.5" cy="-35.0" r="8.1" fill="url(#gy)" fill-opacity="1"/>
<circle cx="237.5" cy="-35.0" r="8.1" fill="url(#gy)" fill-opacity="1"/>
<circle cx="302.5" cy="-35.0" r="8.1" fill="url(#gy)" fill-opacity="1"/>
<circle cx="367.5" cy="-35.0" r="8.1" fill="url(#gy)" fill-opacity="1"/>
<circle cx="432.5" cy="-35.0" r="8.1" fill="url(#gy)" fill-opacity="1"/>
<circle cx="-55.0" cy="21.3" r="8.1" fill="url(#gy)" fill-opacity="1"/>
<circle cx="10.0" cy="21.3" r="8.1" fill="url(#gy)" fill-opacity="1"/>
<circle cx="75.0" cy="21.3" r="8.1" fill="url(#gy)" fill-opacity="1"/>
<circle cx="140.0" cy="21.3" r="8.1" fill="url(#gy)" fill-opacity="1"/>
<circle cx="205.0" cy="21.3" r="8.1" fill="url(#gy)" fill-opacity="1"/>
<circle cx="270.0" cy="21.3" r="8.1" fill="url(#gy)" fill-opacity="1"/>
<circle cx="335.0" cy="21.3" r="8.1" fill="url(#gy)" fill-opacity="1"/>
<circle cx="400.0" cy="21.3" r="8.1" fill="url(#gy)" fill-opacity="1"/>
<circle cx="465.0" cy="21.3" r="8.1" fill="url(#gy)" fill-opacity="1"/>
<circle cx="-87.5" cy="77.6" r="8.1" fill="url(#gy)" fill-opacity="1"/>
<circle cx="-22.5" cy="77.6" r="8.1" fill="url(#gy)" fill-opacity="1"/>
<circle cx="42.5" cy="77.6" r="8.1" fill="url(#gy)" fill-opacity="1"/>
<circle cx="107.5" cy="77.6" r="8.1" fill="url(#gy)" fill-opacity="1"/>
<circle cx="172.5" cy="77.6" r="8.1" fill="url(#gy)" fill-opacity="1"/>
<circle cx="237.5" cy="77.6" r="8.1" fill="url(#gy)" fill-opacity="1"/>
<circle cx="302.5" cy="77.6" r="8.1" fill="url(#gy)" fill-opacity="1"/>
<circle cx="367.5" cy="77.6" r="8.1" fill="url(#gy)" fill-opacity="1"/>
<circle cx="432.5" cy="77.6" r="8.1" fill="url(#gy)" fill-opacity="1"/>
<circle cx="-55.0" cy="133.9" r="8.1" fill="url(#gy)" fill-opacity="1"/>
<circle cx="10.0" cy="133.9" r="8.1" fill="url(#gy)" fill-opacity="1"/>
<circle cx="75.0" cy="133.9" r="8.1" fill="url(#gy)" fill-opacity="1"/>
<circle cx="140.0" cy="133.9" r="8.1" fill="url(#gy)" fill-opacity="1"/>
<circle cx="205.0" cy="133.9" r="8.1" fill="url(#gy)" fill-opacity="1"/>
<circle cx="270.0" cy="133.9" r="8.1" fill="url(#gy)" fill-opacity="1"/>
<circle cx="335.0" cy="133.9" r="8.1" fill="url(#gy)" fill-opacity="1"/>
<circle cx="400.0" cy="133.9" r="8.1" fill="url(#gy)" fill-opacity="1"/>
<circle cx="465.0" cy="133.9" r="8.1" fill="url(#gy)" fill-opacity="1"/>
<circle cx="-87.5" cy="190.2" r="8.1" fill="url(#gy)" fill-opacity="1"/>
<circle cx="-22.5" cy="190.2" r="8.1" fill="url(#gy)" fill-opacity="1"/>
<circle cx="42.5" cy="190.2" r="8.1" fill="url(#gy)" fill-opacity="1"/>
<circle cx="107.5" cy="190.2" r="8.1" fill="url(#gy)" fill-opacity="1"/>
<circle cx="172.5" cy="190.2" r="8.1" fill="url(#gy)" fill-opacity="1"/>
<circle cx="237.5" cy="190.2" r="8.1" fill="url(#gy)" fill-opacity="1"/>
<circle cx="302.5" cy="190.2" r="8.1" fill="url(#gy)" fill-opacity="1"/>
<circle cx="367.5" cy="190.2" r="8.1" fill="url(#gy)" fill-opacity="1"/>
<circle cx="432.5" cy="190.2" r="8.1" fill="url(#gy)" fill-opacity="1"/>
<circle cx="-55.0" cy="246.5" r="8.1" fill="url(#gy)" fill-opacity="1"/>
<circle cx="10.0" cy="246.5" r="8.1" fill="url(#gy)" fill-opacity="1"/>
<circle cx="75.0" cy="246.5" r="8.1" fill="url(#gy)" fill-opacity="1"/>
<circle cx="140.0" cy="246.5" r="8.1" fill="url(#gy)" fill-opacity="1"/>
<circle cx="205.0" cy="246.5" r="8.1" fill="url(#gy)" fill-opacity="1"/>
<circle cx="270.0" cy="246.5" r="8.1" fill="url(#gy)" fill-opacity="1"/>
<circle cx="335.0" cy="246.5" r="8.1" fill="url(#gy)" fill-opacity="1"/>
<circle cx="400.0" cy="246.5" r="8.1" fill="url(#gy)" fill-opacity="1"/>
<circle cx="465.0" cy="246.5" r="8.1" fill="url(#gy)" fill-opacity="1"/>
<circle cx="-87.5" cy="302.8" r="8.1" fill="url(#gy)" fill-opacity="1"/>
<circle cx="-22.5" cy="302.8" r="8.1" fill="url(#gy)" fill-opacity="1"/>
<circle cx="42.5" cy="302.8" r="8.1" fill="url(#gy)" fill-opacity="1"/>
<circle cx="107.5" cy="302.8" r="8.1" fill="url(#gy)" fill-opacity="1"/>
<circle cx="172.5" cy="302.8" r="8.1" fill="url(#gy)" fill-opacity="1"/>
<circle cx="237.5" cy="302.8" r="8.1" fill="url(#gy)" fill-opacity="1"/>
<circle cx="302.5" cy="302.8" r="8.1" fill="url(#gy)" fill-opacity="1"/>
<circle cx="367.5" cy="302.8" r="8.1" fill="url(#gy)" fill-opacity="1"/>
<circle cx="432.5" cy="302.8" r="8.1" fill="url(#gy)" fill-opacity="1"/>
<circle cx="-55.0" cy="359.1" r="8.1" fill="url(#gy)" fill-opacity="1"/>
<circle cx="10.0" cy="359.1" r="8.1" fill="url(#gy)" fill-opacity="1"/>
<circle cx="75.0" cy="359.1" r="8.1" fill="url(#gy)" fill-opacity="1"/>
<circle cx="140.0" cy="359.1" r="8.1" fill="url(#gy)" fill-opacity="1"/>
<circle cx="205.0" cy="359.1" r="8.1" fill="url(#gy)" fill-opacity="1"/>
<circle cx="270.0" cy="359.1" r="8.1" fill="url(#gy)" fill-opacity="1"/>
<circle cx="335.0" cy="359.1" r="8.1" fill="url(#gy)" fill-opacity="1"/>
<circle cx="400.0" cy="359.1" r="8.1" fill="url(#gy)" fill-opacity="1"/>
<circle cx="465.0" cy="359.1" r="8.1" fill="url(#gy)" fill-opacity="1"/>
<circle cx="-55.0" cy="-15.5" r="11.2" fill="url(#gb)" fill-opacity="1"/>
<circle cx="10.0" cy="-15.5" r="11.2" fill="url(#gb)" fill-opacity="1"/>
<circle cx="75.0" cy="-15.5" r="11.2" fill="url(#gb)" fill-opacity="1"/>
<circle cx="140.0" cy="-15.5" r="11.2" fill="url(#gb)" fill-opacity="1"/>
<circle cx="205.0" cy="-15.5" r="11.2" fill="url(#gb)" fill-opacity="1"/>
<circle cx="270.0" cy="-15.5" r="11.2" fill="url(#gb)" fill-opacity="1"/>
<circle cx="335.0" cy="-15.5" r="11.2" fill="url(#gb)" fill-opacity="1"/>
<circle cx="400.0" cy="-15.5" r="11.2" fill="url(#gb)" fill-opacity="1"/>
<circle cx="465.0" cy="-15.5" r="11.2" fill="url(#gb)" fill-opacity="1"/>
<circle cx="-87.5" cy="40.8" r="11.2" fill="url(#gb)" fill-opacity="1"/>
<circle cx="-22.5" cy="40.8" r="11.2" fill="url(#gb)" fill-opacity="1"/>
<circle cx="42.5" cy="40.8" r="11.2" fill="url(#gb)" fill-opacity="1"/>
<circle cx="107.5" cy="40.8" r="11.2" fill="url(#gb)" fill-opacity="1"/>
<circle cx="172.5" cy="40.8" r="11.2" fill="url(#gb)" fill-opacity="1"/>
<circle cx="237.5" cy="40.8" r="11.2" fill="url(#gb)" fill-opacity="1"/>
<circle cx="302.5" cy="40.8" r="11.2" fill="url(#gb)" fill-opacity="1"/>
<circle cx="367.5" cy="40.8" r="11.2" fill="url(#gb)" fill-opacity="1"/>
<circle cx="432.5" cy="40.8" r="11.2" fill="url(#gb)" fill-opacity="1"/>
<circle cx="-55.0" cy="97.1" r="11.2" fill="url(#gb)" fill-opacity="1"/>
<circle cx="10.0" cy="97.1" r="11.2" fill="url(#gb)" fill-opacity="1"/>
<circle cx="75.0" cy="97.1" r="11.2" fill="url(#gb)" fill-opacity="1"/>
<circle cx="140.0" cy="97.1" r="11.2" fill="url(#gb)" fill-opacity="1"/>
<circle cx="205.0" cy="97.1" r="11.2" fill="url(#gb)" fill-opacity="1"/>
<circle cx="270.0" cy="97.1" r="11.2" fill="url(#gb)" fill-opacity="1"/>
<circle cx="335.0" cy="97.1" r="11.2" fill="url(#gb)" fill-opacity="1"/>
<circle cx="400.0" cy="97.1" r="11.2" fill="url(#gb)" fill-opacity="1"/>
<circle cx="465.0" cy="97.1" r="11.2" fill="url(#gb)" fill-opacity="1"/>
<circle cx="-87.5" cy="153.4" r="11.2" fill="url(#gb)" fill-opacity="1"/>
<circle cx="-22.5" cy="153.4" r="11.2" fill="url(#gb)" fill-opacity="1"/>
<circle cx="42.5" cy="153.4" r="11.2" fill="url(#gb)" fill-opacity="1"/>
<circle cx="107.5" cy="153.4" r="11.2" fill="url(#gb)" fill-opacity="1"/>
<circle cx="172.5" cy="153.4" r="11.2" fill="url(#gb)" fill-opacity="1"/>
<circle cx="237.5" cy="153.4" r="11.2" fill="url(#gb)" fill-opacity="1"/>
<circle cx="302.5" cy="153.4" r="11.2" fill="url(#gb)" fill-opacity="1"/>
<circle cx="367.5" cy="153.4" r="11.2" fill="url(#gb)" fill-opacity="1"/>
<circle cx="432.5" cy="153.4" r="11.2" fill="url(#gb)" fill-opacity="1"/>
<circle cx="-55.0" cy="209.7" r="11.2" fill="url(#gb)" fill-opacity="1"/>
<circle cx="10.0" cy="209.7" r="11.2" fill="url(#gb)" fill-opacity="1"/>
<circle cx="75.0" cy="209.7" r="11.2" fill="url(#gb)" fill-opacity="1"/>
<circle cx="140.0" cy="209.7" r="11.2" fill="url(#gb)" fill-opacity="1"/>
<circle cx="205.0" cy="209.7" r="11.2" fill="url(#gb)" fill-opacity="1"/>
<circle cx="270.0" cy="209.7" r="11.2" fill="url(#gb)" fill-opacity="1"/>
<circle cx="335.0" cy="209.7" r="11.2" fill="url(#gb)" fill-opacity="1"/>
<circle cx="400.0" cy="209.7" r="11.2" fill="url(#gb)" fill-opacity="1"/>
<circle cx="465.0" cy="209.7" r="11.2" fill="url(#gb)" fill-opacity="1"/>
<circle cx="-87.5" cy="266.0" r="11.2" fill="url(#gb)" fill-opacity="1"/>
<circle cx="-22.5" cy="266.0" r="11.2" fill="url(#gb)" fill-opacity="1"/>
<circle cx="42.5" cy="266.0" r="11.2" fill="url(#gb)" fill-opacity="1"/>
<circle cx="107.5" cy="266.0" r="11.2" fill="url(#gb)" fill-opacity="1"/>
<circle cx="172.5" cy="266.0" r="11.2" fill="url(#gb)" fill-opacity="1"/>
<circle cx="237.5" cy="266.0" r="11.2" fill="url(#gb)" fill-opacity="1"/>
<circle cx="302.5" cy="266.0" r="11.2" fill="url(#gb)" fill-opacity="1"/>
<circle cx="367.5" cy="266.0" r="11.2" fill="url(#gb)" fill-opacity="1"/>
<circle cx="432.5" cy="266.0" r="11.2" fill="url(#gb)" fill-opacity="1"/>
<circle cx="-55.0" cy="322.3" r="11.2" fill="url(#gb)" fill-opacity="1"/>
<circle cx="10.0" cy="322.3" r="11.2" fill="url(#gb)" fill-opacity="1"/>
<circle cx="75.0" cy="322.3" r="11.2" fill="url(#gb)" fill-opacity="1"/>
<circle cx="140.0" cy="322.3" r="11.2" fill="url(#gb)" fill-opacity="1"/>
<circle cx="205.0" cy="322.3" r="11.2" fill="url(#gb)" fill-opacity="1"/>
<circle cx="270.0" cy="322.3" r="11.2" fill="url(#gb)" fill-opacity="1"/>
<circle cx="335.0" cy="322.3" r="11.2" fill="url(#gb)" fill-opacity="1"/>
<circle cx="400.0" cy="322.3" r="11.2" fill="url(#gb)" fill-opacity="1"/>
<circle cx="465.0" cy="322.3" r="11.2" fill="url(#gb)" fill-opacity="1"/>
</g></g>
<g clip-path="url(#ca)"><ellipse cx="128.6" cy="92.9" rx="4.2" ry="4.2" fill="url(#pc)" fill-opacity="0.93" stroke="#3aa8a0" stroke-opacity="0.8" stroke-width="1"/>
<ellipse cx="152.2" cy="101.7" rx="4.2" ry="4.2" fill="url(#pc)" fill-opacity="0.93" stroke="#3aa8a0" stroke-opacity="0.8" stroke-width="1"/>
<ellipse cx="257.1" cy="101.7" rx="4.3" ry="4.3" fill="url(#pc)" fill-opacity="0.93" stroke="#3aa8a0" stroke-opacity="0.8" stroke-width="1"/>
<ellipse cx="283.9" cy="91.7" rx="4.3" ry="4.3" fill="url(#pc)" fill-opacity="0.93" stroke="#3aa8a0" stroke-opacity="0.8" stroke-width="1"/>
<ellipse cx="162.0" cy="28.5" rx="6.5" ry="6" fill="url(#pp)" fill-opacity="0.93" stroke="#a84cbc" stroke-opacity="0.8" stroke-width="1" transform="rotate(20 162.0 28.5)"/>
<ellipse cx="186.6" cy="47.8" rx="9.5" ry="6.5" fill="url(#pp)" fill-opacity="0.93" stroke="#a84cbc" stroke-opacity="0.8" stroke-width="1" transform="rotate(10 186.6 47.8)"/>
<ellipse cx="172.1" cy="40.3" rx="4" ry="2.6" fill="#c88ae8" stroke="#7a3aa8" stroke-width="0.8" transform="rotate(-30 172.1 40.8)"/>
<ellipse cx="182.2" cy="81.6" rx="17" ry="19.3" fill="url(#pp)" fill-opacity="0.93" stroke="#a84cbc" stroke-opacity="0.8" stroke-width="1"/>
<ellipse cx="163.3" cy="71.9" rx="17" ry="17" fill="url(#pp)" fill-opacity="0.9" stroke="#a84cbc" stroke-opacity="0.8" stroke-width="1"/>
<path d="M173.6 77.6L173.6 60.6M173.6 77.6L158.6 86.3" stroke="#e8a070" stroke-opacity="0.85" stroke-width="3.6"/>
<circle cx="173.6" cy="77.6" r="8.1" fill="url(#gy)" fill-opacity="1"/>
<ellipse cx="223.6" cy="51.6" rx="19.5" ry="15" fill="url(#pp)" fill-opacity="0.93" stroke="#a84cbc" stroke-opacity="0.8" stroke-width="1" transform="rotate(-15 223.6 51.6)"/>
<ellipse cx="243.1" cy="26.4" rx="18.4" ry="18.5" fill="url(#pp)" fill-opacity="0.93" stroke="#a84cbc" stroke-opacity="0.8" stroke-width="1"/>
<path d="M237.1 40.8L237.1 59.2" stroke="#2f72a8" stroke-width="3.9" stroke-opacity="0.9"/><path d="M237.1 59.2L237.1 70.6" stroke="#d6da2c" stroke-width="3.9" stroke-opacity="0.9"/><path d="M237.1 40.8L220.9 31.0" stroke="#2f72a8" stroke-width="3.9" stroke-opacity="0.9"/><path d="M220.9 31.0L210.6 24.9" stroke="#d6da2c" stroke-width="3.9" stroke-opacity="0.9"/><path d="M237.1 40.8L253.4 31.0" stroke="#2f72a8" stroke-width="3.9" stroke-opacity="0.9"/><path d="M253.4 31.0L263.6 24.9" stroke="#d6da2c" stroke-width="3.9" stroke-opacity="0.9"/>
<circle cx="237.1" cy="40.8" r="11.2" fill="url(#gb)" fill-opacity="0.95"/>
<circle cx="237.1" cy="40.8" r="15" fill="#c070d8" fill-opacity="0.12" stroke="#9038a8" stroke-opacity="0.65" stroke-width="1"/>
<path d="M227.2 85.9L237.5 77.6" stroke="#d6da2c" stroke-width="3.4"/>
<path d="M207.0 120.8L205.0 133.9" stroke="#d6da2c" stroke-width="3.4"/>
<path d="M210.3 99.5L227.2 85.9" stroke="#3ee83e" stroke-width="3.4"/>
<path d="M210.3 99.5L207.0 120.8" stroke="#3ee83e" stroke-width="3.4"/>
<circle cx="237.5" cy="77.6" r="8.1" fill="url(#gy)" fill-opacity="1"/>
<ellipse cx="230.9" cy="86.8" rx="5" ry="3.5" fill="url(#pp)" fill-opacity="0.93" stroke="#a84cbc" stroke-opacity="0.8" stroke-width="1" transform="rotate(-30 230.9 86.8)"/>
<ellipse cx="205.4" cy="124.0" rx="2.2" ry="2.2" fill="url(#pp)" fill-opacity="0.93" stroke="#a84cbc" stroke-opacity="0.8" stroke-width="1"/>
<ellipse cx="206.8" cy="100.0" rx="11.5" ry="11.5" fill="url(#pp)" fill-opacity="1" stroke="#a84cbc" stroke-opacity="0.8" stroke-width="1"/>
<ellipse cx="213.8" cy="87.5" rx="6.5" ry="4.5" fill="url(#pp)" fill-opacity="0.93" stroke="#a84cbc" stroke-opacity="0.8" stroke-width="1" transform="rotate(15 213.8 87.5)"/>
<ellipse cx="202.3" cy="95.5" rx="7" ry="9.2" fill="url(#pp)" fill-opacity="1" stroke="#a84cbc" stroke-opacity="0.8" stroke-width="1" transform="rotate(30 202.3 95.5)"/>
<ellipse cx="219.5" cy="105.2" rx="7.5" ry="8.5" fill="url(#pp)" fill-opacity="0.93" stroke="#a84cbc" stroke-opacity="0.8" stroke-width="1" transform="rotate(30 219.5 105.2)"/>
<circle cx="210.3" cy="99.5" r="9.3" fill="url(#gg)"/>
<ellipse cx="214.3" cy="91.3" rx="6.8" ry="6" fill="url(#pc)" fill-opacity="0.92" stroke="#3aa8a0" stroke-opacity="0.8" stroke-width="1" transform="rotate(20 214.3 91.3)"/>
<ellipse cx="204.3" cy="108.9" rx="6.6" ry="5.7" fill="url(#pc)" fill-opacity="0.92" stroke="#3aa8a0" stroke-opacity="0.8" stroke-width="1" transform="rotate(20 204.3 108.9)"/>
<path d="M209.3 98.5L219.3 90.5M210.3 100.5L208.3 111.5" stroke="#3ee83e" stroke-width="3.6" stroke-linecap="round"/>
<ellipse cx="59.1" cy="206.8" rx="3.8" ry="3.8" fill="url(#pp)" fill-opacity="0.93" stroke="#a84cbc" stroke-opacity="0.8" stroke-width="1"/>
<ellipse cx="89.1" cy="214.7" rx="4.3" ry="4.3" fill="url(#pp)" fill-opacity="0.93" stroke="#a84cbc" stroke-opacity="0.8" stroke-width="1"/>
<ellipse cx="192.1" cy="214.3" rx="4.3" ry="4.3" fill="url(#pc)" fill-opacity="0.93" stroke="#3aa8a0" stroke-opacity="0.8" stroke-width="1"/>
<ellipse cx="218.9" cy="204.3" rx="4.3" ry="4.3" fill="url(#pc)" fill-opacity="0.93" stroke="#3aa8a0" stroke-opacity="0.8" stroke-width="1"/>
<ellipse cx="95.9" cy="142.5" rx="5.3" ry="5.3" fill="url(#pp)" fill-opacity="0.93" stroke="#a84cbc" stroke-opacity="0.8" stroke-width="1"/>
<ellipse cx="119.9" cy="161.2" rx="5.7" ry="4.8" fill="url(#pp)" fill-opacity="0.93" stroke="#a84cbc" stroke-opacity="0.8" stroke-width="1"/>
<ellipse cx="117.2" cy="194.2" rx="17" ry="19.3" fill="url(#pp)" fill-opacity="0.93" stroke="#a84cbc" stroke-opacity="0.8" stroke-width="1"/>
<ellipse cx="98.3" cy="184.5" rx="17" ry="17" fill="url(#pp)" fill-opacity="0.9" stroke="#a84cbc" stroke-opacity="0.8" stroke-width="1"/>
<path d="M108.6 190.2L108.6 173.2M108.6 190.2L93.6 198.9" stroke="#e8a070" stroke-opacity="0.85" stroke-width="3.6"/>
<circle cx="108.6" cy="190.2" r="8.1" fill="url(#gy)" fill-opacity="1"/>
<ellipse cx="160.6" cy="164.0" rx="12" ry="10.5" fill="url(#pp)" fill-opacity="0.93" stroke="#a84cbc" stroke-opacity="0.8" stroke-width="1" transform="rotate(-15 160.6 164.0)"/>
<ellipse cx="180.6" cy="140.0" rx="11.4" ry="9.3" fill="url(#pp)" fill-opacity="0.93" stroke="#a84cbc" stroke-opacity="0.8" stroke-width="1"/>
<path d="M172.1 153.4L172.1 171.8" stroke="#2f72a8" stroke-width="3.9" stroke-opacity="0.9"/><path d="M172.1 171.8L172.1 183.2" stroke="#d6da2c" stroke-width="3.9" stroke-opacity="0.9"/><path d="M172.1 153.4L155.9 143.6" stroke="#2f72a8" stroke-width="3.9" stroke-opacity="0.9"/><path d="M155.9 143.6L145.6 137.5" stroke="#d6da2c" stroke-width="3.9" stroke-opacity="0.9"/><path d="M172.1 153.4L188.4 143.6" stroke="#2f72a8" stroke-width="3.9" stroke-opacity="0.9"/><path d="M188.4 143.6L198.6 137.5" stroke="#d6da2c" stroke-width="3.9" stroke-opacity="0.9"/>
<circle cx="172.1" cy="153.4" r="11.2" fill="url(#gb)" fill-opacity="0.95"/>
<circle cx="172.1" cy="153.4" r="11.5" fill="#c070d8" fill-opacity="0.12" stroke="#9038a8" stroke-opacity="0.65" stroke-width="1"/>
<path d="M162.2 198.5L172.5 190.2" stroke="#d6da2c" stroke-width="3.4"/>
<path d="M142.0 233.4L140.0 246.5" stroke="#d6da2c" stroke-width="3.4"/>
<path d="M145.3 212.1L162.2 198.5" stroke="#3ee83e" stroke-width="3.4"/>
<path d="M145.3 212.1L142.0 233.4" stroke="#3ee83e" stroke-width="3.4"/>
<circle cx="172.5" cy="190.2" r="8.1" fill="url(#gy)" fill-opacity="1"/>
<ellipse cx="165.9" cy="199.4" rx="5" ry="3.5" fill="url(#pp)" fill-opacity="0.93" stroke="#a84cbc" stroke-opacity="0.8" stroke-width="1" transform="rotate(-30 165.9 199.4)"/>
<ellipse cx="140.4" cy="236.6" rx="2.2" ry="2.2" fill="url(#pp)" fill-opacity="0.93" stroke="#a84cbc" stroke-opacity="0.8" stroke-width="1"/>
<ellipse cx="141.8" cy="212.6" rx="11.5" ry="11.5" fill="url(#pp)" fill-opacity="1" stroke="#a84cbc" stroke-opacity="0.8" stroke-width="1"/>
<ellipse cx="148.8" cy="200.1" rx="6.5" ry="4.5" fill="url(#pp)" fill-opacity="0.93" stroke="#a84cbc" stroke-opacity="0.8" stroke-width="1" transform="rotate(15 148.8 200.1)"/>
<ellipse cx="137.3" cy="208.1" rx="7" ry="9.2" fill="url(#pp)" fill-opacity="1" stroke="#a84cbc" stroke-opacity="0.8" stroke-width="1" transform="rotate(30 137.3 208.1)"/>
<ellipse cx="154.5" cy="217.8" rx="7.5" ry="8.5" fill="url(#pp)" fill-opacity="0.93" stroke="#a84cbc" stroke-opacity="0.8" stroke-width="1" transform="rotate(30 154.5 217.8)"/>
<circle cx="145.3" cy="212.1" r="9.3" fill="url(#gg)"/>
<ellipse cx="149.3" cy="203.9" rx="6.8" ry="6" fill="url(#pc)" fill-opacity="0.92" stroke="#3aa8a0" stroke-opacity="0.8" stroke-width="1" transform="rotate(20 149.3 203.9)"/>
<ellipse cx="139.3" cy="221.5" rx="6.6" ry="5.7" fill="url(#pc)" fill-opacity="0.92" stroke="#3aa8a0" stroke-opacity="0.8" stroke-width="1" transform="rotate(20 139.3 221.5)"/>
<path d="M144.3 211.1L154.3 203.1M145.3 213.1L143.3 224.1" stroke="#3ee83e" stroke-width="3.6" stroke-linecap="round"/>
<ellipse cx="189.1" cy="-18.4" rx="3.8" ry="3.8" fill="url(#pp)" fill-opacity="0.93" stroke="#a84cbc" stroke-opacity="0.8" stroke-width="1"/>
<ellipse cx="219.1" cy="-10.5" rx="4.3" ry="4.3" fill="url(#pp)" fill-opacity="0.93" stroke="#a84cbc" stroke-opacity="0.8" stroke-width="1"/>
<ellipse cx="322.1" cy="-10.9" rx="4.3" ry="4.3" fill="url(#pc)" fill-opacity="0.93" stroke="#3aa8a0" stroke-opacity="0.8" stroke-width="1"/>
<ellipse cx="348.9" cy="-20.9" rx="4.3" ry="4.3" fill="url(#pc)" fill-opacity="0.93" stroke="#3aa8a0" stroke-opacity="0.8" stroke-width="1"/>
<ellipse cx="225.9" cy="-82.7" rx="5.3" ry="5.3" fill="url(#pp)" fill-opacity="0.93" stroke="#a84cbc" stroke-opacity="0.8" stroke-width="1"/>
<ellipse cx="249.9" cy="-64.0" rx="5.7" ry="4.8" fill="url(#pp)" fill-opacity="0.93" stroke="#a84cbc" stroke-opacity="0.8" stroke-width="1"/>
<ellipse cx="247.2" cy="-31.0" rx="17" ry="19.3" fill="url(#pp)" fill-opacity="0.93" stroke="#a84cbc" stroke-opacity="0.8" stroke-width="1"/>
<ellipse cx="228.3" cy="-40.7" rx="17" ry="17" fill="url(#pp)" fill-opacity="0.9" stroke="#a84cbc" stroke-opacity="0.8" stroke-width="1"/>
<path d="M238.6 -35.0L238.6 -52.0M238.6 -35.0L223.6 -26.3" stroke="#e8a070" stroke-opacity="0.85" stroke-width="3.6"/>
<circle cx="238.6" cy="-35.0" r="8.1" fill="url(#gy)" fill-opacity="1"/>
<ellipse cx="290.6" cy="-61.2" rx="12" ry="10.5" fill="url(#pp)" fill-opacity="0.93" stroke="#a84cbc" stroke-opacity="0.8" stroke-width="1" transform="rotate(-15 290.6 -61.2)"/>
<ellipse cx="310.6" cy="-85.2" rx="11.4" ry="9.3" fill="url(#pp)" fill-opacity="0.93" stroke="#a84cbc" stroke-opacity="0.8" stroke-width="1"/>
<path d="M302.1 -71.8L302.1 -53.4" stroke="#2f72a8" stroke-width="3.9" stroke-opacity="0.9"/><path d="M302.1 -53.4L302.1 -42.0" stroke="#d6da2c" stroke-width="3.9" stroke-opacity="0.9"/><path d="M302.1 -71.8L285.9 -81.5" stroke="#2f72a8" stroke-width="3.9" stroke-opacity="0.9"/><path d="M285.9 -81.5L275.6 -87.7" stroke="#d6da2c" stroke-width="3.9" stroke-opacity="0.9"/><path d="M302.1 -71.8L318.4 -81.5" stroke="#2f72a8" stroke-width="3.9" stroke-opacity="0.9"/><path d="M318.4 -81.5L328.6 -87.7" stroke="#d6da2c" stroke-width="3.9" stroke-opacity="0.9"/>
<circle cx="302.1" cy="-71.8" r="11.2" fill="url(#gb)" fill-opacity="0.95"/>
<circle cx="302.1" cy="-71.8" r="11.5" fill="#c070d8" fill-opacity="0.12" stroke="#9038a8" stroke-opacity="0.65" stroke-width="1"/>
<ellipse cx="295.9" cy="-25.8" rx="5" ry="3.5" fill="url(#pp)" fill-opacity="0.93" stroke="#a84cbc" stroke-opacity="0.8" stroke-width="1" transform="rotate(-30 295.9 -25.8)"/>
<ellipse cx="270.4" cy="11.4" rx="2.2" ry="2.2" fill="url(#pp)" fill-opacity="0.93" stroke="#a84cbc" stroke-opacity="0.8" stroke-width="1"/>
<ellipse cx="275.5" cy="12.1" rx="3.8" ry="3.5" fill="url(#pp)" fill-opacity="0.93" stroke="#a84cbc" stroke-opacity="0.8" stroke-width="1"/>
<circle cx="270.0" cy="21.3" r="8.1" fill="url(#gy)" fill-opacity="1"/>
<ellipse cx="-1.4" cy="318.1" rx="4.2" ry="4.2" fill="url(#pc)" fill-opacity="0.93" stroke="#3aa8a0" stroke-opacity="0.8" stroke-width="1"/>
<ellipse cx="22.2" cy="326.9" rx="4.2" ry="4.2" fill="url(#pc)" fill-opacity="0.93" stroke="#3aa8a0" stroke-opacity="0.8" stroke-width="1"/>
<ellipse cx="127.1" cy="326.9" rx="4.3" ry="4.3" fill="url(#pc)" fill-opacity="0.93" stroke="#3aa8a0" stroke-opacity="0.8" stroke-width="1"/>
<ellipse cx="153.9" cy="316.9" rx="4.3" ry="4.3" fill="url(#pc)" fill-opacity="0.93" stroke="#3aa8a0" stroke-opacity="0.8" stroke-width="1"/>
<ellipse cx="32.0" cy="253.7" rx="6.5" ry="6" fill="url(#pp)" fill-opacity="0.93" stroke="#a84cbc" stroke-opacity="0.8" stroke-width="1" transform="rotate(20 32.0 253.7)"/>
<ellipse cx="56.6" cy="273.0" rx="9.5" ry="6.5" fill="url(#pp)" fill-opacity="0.93" stroke="#a84cbc" stroke-opacity="0.8" stroke-width="1" transform="rotate(10 56.6 273.0)"/>
<ellipse cx="42.1" cy="265.5" rx="4" ry="2.6" fill="#c88ae8" stroke="#7a3aa8" stroke-width="0.8" transform="rotate(-30 42.1 266.0)"/>
<ellipse cx="52.2" cy="306.8" rx="17" ry="19.3" fill="url(#pp)" fill-opacity="0.93" stroke="#a84cbc" stroke-opacity="0.8" stroke-width="1"/>
<ellipse cx="33.3" cy="297.1" rx="17" ry="17" fill="url(#pp)" fill-opacity="0.9" stroke="#a84cbc" stroke-opacity="0.8" stroke-width="1"/>
<path d="M43.6 302.8L43.6 285.8M43.6 302.8L28.6 311.5" stroke="#e8a070" stroke-opacity="0.85" stroke-width="3.6"/>
<circle cx="43.6" cy="302.8" r="8.1" fill="url(#gy)" fill-opacity="1"/>
<ellipse cx="97.4" cy="276.0" rx="23" ry="13" fill="url(#pp)" fill-opacity="0.93" stroke="#a84cbc" stroke-opacity="0.8" stroke-width="1" transform="rotate(-10 97.4 276.0)"/>
<ellipse cx="113.1" cy="254.0" rx="17.5" ry="20" fill="url(#pp)" fill-opacity="0.93" stroke="#a84cbc" stroke-opacity="0.8" stroke-width="1"/>
<path d="M107.1 266.0L107.1 284.4" stroke="#2f72a8" stroke-width="3.9" stroke-opacity="0.9"/><path d="M107.1 284.4L107.1 295.8" stroke="#d6da2c" stroke-width="3.9" stroke-opacity="0.9"/><path d="M107.1 266.0L90.9 256.2" stroke="#2f72a8" stroke-width="3.9" stroke-opacity="0.9"/><path d="M90.9 256.2L80.6 250.1" stroke="#d6da2c" stroke-width="3.9" stroke-opacity="0.9"/><path d="M107.1 266.0L123.4 256.2" stroke="#2f72a8" stroke-width="3.9" stroke-opacity="0.9"/><path d="M123.4 256.2L133.6 250.1" stroke="#d6da2c" stroke-width="3.9" stroke-opacity="0.9"/>
<circle cx="107.1" cy="266.0" r="11.2" fill="url(#gb)" fill-opacity="0.95"/>
<circle cx="107.1" cy="266.0" r="15" fill="#c070d8" fill-opacity="0.12" stroke="#9038a8" stroke-opacity="0.65" stroke-width="1"/>
<ellipse cx="100.9" cy="312.0" rx="5" ry="3.5" fill="url(#pp)" fill-opacity="0.93" stroke="#a84cbc" stroke-opacity="0.8" stroke-width="1" transform="rotate(-30 100.9 312.0)"/>
<ellipse cx="75.4" cy="349.2" rx="2.2" ry="2.2" fill="url(#pp)" fill-opacity="0.93" stroke="#a84cbc" stroke-opacity="0.8" stroke-width="1"/>
<ellipse cx="80.5" cy="349.9" rx="3.8" ry="3.5" fill="url(#pp)" fill-opacity="0.93" stroke="#a84cbc" stroke-opacity="0.8" stroke-width="1"/>
<circle cx="75.0" cy="359.1" r="8.1" fill="url(#gy)" fill-opacity="1"/>
<ellipse cx="258.6" cy="318.1" rx="4.2" ry="4.2" fill="url(#pc)" fill-opacity="0.93" stroke="#3aa8a0" stroke-opacity="0.8" stroke-width="1"/>
<ellipse cx="282.2" cy="326.9" rx="4.2" ry="4.2" fill="url(#pc)" fill-opacity="0.93" stroke="#3aa8a0" stroke-opacity="0.8" stroke-width="1"/>
<ellipse cx="387.1" cy="326.9" rx="4.3" ry="4.3" fill="url(#pc)" fill-opacity="0.93" stroke="#3aa8a0" stroke-opacity="0.8" stroke-width="1"/>
<ellipse cx="413.9" cy="316.9" rx="4.3" ry="4.3" fill="url(#pc)" fill-opacity="0.93" stroke="#3aa8a0" stroke-opacity="0.8" stroke-width="1"/>
<ellipse cx="292.0" cy="253.7" rx="6.5" ry="6" fill="url(#pp)" fill-opacity="0.93" stroke="#a84cbc" stroke-opacity="0.8" stroke-width="1" transform="rotate(20 292.0 253.7)"/>
<ellipse cx="316.6" cy="273.0" rx="9.5" ry="6.5" fill="url(#pp)" fill-opacity="0.93" stroke="#a84cbc" stroke-opacity="0.8" stroke-width="1" transform="rotate(10 316.6 273.0)"/>
<ellipse cx="302.1" cy="265.5" rx="4" ry="2.6" fill="#c88ae8" stroke="#7a3aa8" stroke-width="0.8" transform="rotate(-30 302.1 266.0)"/>
<ellipse cx="312.2" cy="306.8" rx="17" ry="19.3" fill="url(#pp)" fill-opacity="0.93" stroke="#a84cbc" stroke-opacity="0.8" stroke-width="1"/>
<ellipse cx="293.3" cy="297.1" rx="17" ry="17" fill="url(#pp)" fill-opacity="0.9" stroke="#a84cbc" stroke-opacity="0.8" stroke-width="1"/>
<path d="M303.6 302.8L303.6 285.8M303.6 302.8L288.6 311.5" stroke="#e8a070" stroke-opacity="0.85" stroke-width="3.6"/>
<circle cx="303.6" cy="302.8" r="8.1" fill="url(#gy)" fill-opacity="1"/>
<ellipse cx="353.6" cy="276.8" rx="19.5" ry="15" fill="url(#pp)" fill-opacity="0.93" stroke="#a84cbc" stroke-opacity="0.8" stroke-width="1" transform="rotate(-15 353.6 276.8)"/>
<ellipse cx="373.1" cy="251.6" rx="18.4" ry="18.5" fill="url(#pp)" fill-opacity="0.93" stroke="#a84cbc" stroke-opacity="0.8" stroke-width="1"/>
<path d="M367.1 266.0L367.1 284.4" stroke="#2f72a8" stroke-width="3.9" stroke-opacity="0.9"/><path d="M367.1 284.4L367.1 295.8" stroke="#d6da2c" stroke-width="3.9" stroke-opacity="0.9"/><path d="M367.1 266.0L350.9 256.2" stroke="#2f72a8" stroke-width="3.9" stroke-opacity="0.9"/><path d="M350.9 256.2L340.6 250.1" stroke="#d6da2c" stroke-width="3.9" stroke-opacity="0.9"/><path d="M367.1 266.0L383.4 256.2" stroke="#2f72a8" stroke-width="3.9" stroke-opacity="0.9"/><path d="M383.4 256.2L393.6 250.1" stroke="#d6da2c" stroke-width="3.9" stroke-opacity="0.9"/>
<circle cx="367.1" cy="266.0" r="11.2" fill="url(#gb)" fill-opacity="0.95"/>
<circle cx="367.1" cy="266.0" r="15" fill="#c070d8" fill-opacity="0.12" stroke="#9038a8" stroke-opacity="0.65" stroke-width="1"/>
<ellipse cx="360.9" cy="312.0" rx="5" ry="3.5" fill="url(#pp)" fill-opacity="0.93" stroke="#a84cbc" stroke-opacity="0.8" stroke-width="1" transform="rotate(-30 360.9 312.0)"/>
<ellipse cx="335.4" cy="349.2" rx="2.2" ry="2.2" fill="url(#pp)" fill-opacity="0.93" stroke="#a84cbc" stroke-opacity="0.8" stroke-width="1"/>
<ellipse cx="340.5" cy="349.9" rx="3.8" ry="3.5" fill="url(#pp)" fill-opacity="0.93" stroke="#a84cbc" stroke-opacity="0.8" stroke-width="1"/>
<circle cx="335.0" cy="359.1" r="8.1" fill="url(#gy)" fill-opacity="1"/>
<ellipse cx="319.1" cy="206.8" rx="3.8" ry="3.8" fill="url(#pp)" fill-opacity="0.93" stroke="#a84cbc" stroke-opacity="0.8" stroke-width="1"/>
<ellipse cx="349.1" cy="214.7" rx="4.3" ry="4.3" fill="url(#pp)" fill-opacity="0.93" stroke="#a84cbc" stroke-opacity="0.8" stroke-width="1"/>
<ellipse cx="452.1" cy="214.3" rx="4.3" ry="4.3" fill="url(#pc)" fill-opacity="0.93" stroke="#3aa8a0" stroke-opacity="0.8" stroke-width="1"/>
<ellipse cx="478.9" cy="204.3" rx="4.3" ry="4.3" fill="url(#pc)" fill-opacity="0.93" stroke="#3aa8a0" stroke-opacity="0.8" stroke-width="1"/>
<ellipse cx="355.9" cy="142.5" rx="5.3" ry="5.3" fill="url(#pp)" fill-opacity="0.93" stroke="#a84cbc" stroke-opacity="0.8" stroke-width="1"/>
<ellipse cx="379.9" cy="161.2" rx="5.7" ry="4.8" fill="url(#pp)" fill-opacity="0.93" stroke="#a84cbc" stroke-opacity="0.8" stroke-width="1"/>
<ellipse cx="377.2" cy="194.2" rx="17" ry="19.3" fill="url(#pp)" fill-opacity="0.93" stroke="#a84cbc" stroke-opacity="0.8" stroke-width="1"/>
<ellipse cx="358.3" cy="184.5" rx="17" ry="17" fill="url(#pp)" fill-opacity="0.9" stroke="#a84cbc" stroke-opacity="0.8" stroke-width="1"/>
<path d="M368.6 190.2L368.6 173.2M368.6 190.2L353.6 198.9" stroke="#e8a070" stroke-opacity="0.85" stroke-width="3.6"/>
<circle cx="368.6" cy="190.2" r="8.1" fill="url(#gy)" fill-opacity="1"/>
<ellipse cx="420.6" cy="164.0" rx="12" ry="10.5" fill="url(#pp)" fill-opacity="0.93" stroke="#a84cbc" stroke-opacity="0.8" stroke-width="1" transform="rotate(-15 420.6 164.0)"/>
<ellipse cx="440.6" cy="140.0" rx="11.4" ry="9.3" fill="url(#pp)" fill-opacity="0.93" stroke="#a84cbc" stroke-opacity="0.8" stroke-width="1"/>
<path d="M432.1 153.4L432.1 171.8" stroke="#2f72a8" stroke-width="3.9" stroke-opacity="0.9"/><path d="M432.1 171.8L432.1 183.2" stroke="#d6da2c" stroke-width="3.9" stroke-opacity="0.9"/><path d="M432.1 153.4L415.9 143.6" stroke="#2f72a8" stroke-width="3.9" stroke-opacity="0.9"/><path d="M415.9 143.6L405.6 137.5" stroke="#d6da2c" stroke-width="3.9" stroke-opacity="0.9"/><path d="M432.1 153.4L448.4 143.6" stroke="#2f72a8" stroke-width="3.9" stroke-opacity="0.9"/><path d="M448.4 143.6L458.6 137.5" stroke="#d6da2c" stroke-width="3.9" stroke-opacity="0.9"/>
<circle cx="432.1" cy="153.4" r="11.2" fill="url(#gb)" fill-opacity="0.95"/>
<circle cx="432.1" cy="153.4" r="11.5" fill="#c070d8" fill-opacity="0.12" stroke="#9038a8" stroke-opacity="0.65" stroke-width="1"/>
<ellipse cx="425.9" cy="199.4" rx="5" ry="3.5" fill="url(#pp)" fill-opacity="0.93" stroke="#a84cbc" stroke-opacity="0.8" stroke-width="1" transform="rotate(-30 425.9 199.4)"/>
<ellipse cx="400.4" cy="236.6" rx="2.2" ry="2.2" fill="url(#pp)" fill-opacity="0.93" stroke="#a84cbc" stroke-opacity="0.8" stroke-width="1"/>
<ellipse cx="405.5" cy="237.3" rx="3.8" ry="3.5" fill="url(#pp)" fill-opacity="0.93" stroke="#a84cbc" stroke-opacity="0.8" stroke-width="1"/>
<circle cx="400.0" cy="246.5" r="8.1" fill="url(#gy)" fill-opacity="1"/></g>
<g clip-path="url(#cb)"><ellipse cx="543.5" cy="47.3" rx="26.5" ry="11" fill="url(#pc)" fill-opacity="0.93" stroke="#3aa8a0" stroke-opacity="0.8" stroke-width="1" transform="rotate(2 543.5 47.3)"/>
<ellipse cx="502.0" cy="31.0" rx="10" ry="9" fill="url(#pc)" fill-opacity="0.93" stroke="#3aa8a0" stroke-opacity="0.8" stroke-width="1"/>
<path d="M514.8 40.8L514.8 59.2" stroke="#2f72a8" stroke-width="3.9" stroke-opacity="0.9"/><path d="M514.8 59.2L514.8 70.6" stroke="#d6da2c" stroke-width="3.9" stroke-opacity="0.9"/><path d="M514.8 40.8L498.5 31.0" stroke="#2f72a8" stroke-width="3.9" stroke-opacity="0.9"/><path d="M498.5 31.0L488.3 24.9" stroke="#d6da2c" stroke-width="3.9" stroke-opacity="0.9"/><path d="M514.8 40.8L531.0 31.0" stroke="#2f72a8" stroke-width="3.9" stroke-opacity="0.9"/><path d="M531.0 31.0L541.3 24.9" stroke="#d6da2c" stroke-width="3.9" stroke-opacity="0.9"/>
<circle cx="514.8" cy="40.8" r="11.2" fill="url(#gb)" fill-opacity="0.95"/>
<circle cx="514.8" cy="40.8" r="12.5" fill="#40b8b8" fill-opacity="0.12" stroke="#2a9a98" stroke-opacity="0.65" stroke-width="1"/>
<ellipse cx="524.0" cy="81.2" rx="16.5" ry="18" fill="url(#pc)" fill-opacity="0.93" stroke="#3aa8a0" stroke-opacity="0.8" stroke-width="1"/>
<ellipse cx="505.6" cy="70.7" rx="15.5" ry="15.5" fill="url(#pc)" fill-opacity="0.9" stroke="#3aa8a0" stroke-opacity="0.8" stroke-width="1"/>
<path d="M516.0 78.1L516.0 61.1M516.0 78.1L501.0 86.8" stroke="#a8e070" stroke-opacity="0.85" stroke-width="3.6"/>
<circle cx="516.0" cy="78.1" r="8.1" fill="url(#gy)" fill-opacity="1"/>
<ellipse cx="468.9" cy="91.3" rx="10.8" ry="11.8" fill="url(#pc)" fill-opacity="0.93" stroke="#3aa8a0" stroke-opacity="0.8" stroke-width="1"/>
<ellipse cx="504.8" cy="113.4" rx="27" ry="10.5" fill="url(#pc)" fill-opacity="0.93" stroke="#3aa8a0" stroke-opacity="0.8" stroke-width="1" transform="rotate(56 504.8 113.4)"/>
<path d="M482.3 96.9L482.3 115.3" stroke="#2f72a8" stroke-width="3.9" stroke-opacity="0.9"/><path d="M482.3 115.3L482.3 126.7" stroke="#d6da2c" stroke-width="3.9" stroke-opacity="0.9"/><path d="M482.3 96.9L466.0 87.2" stroke="#2f72a8" stroke-width="3.9" stroke-opacity="0.9"/><path d="M466.0 87.2L455.8 81.0" stroke="#d6da2c" stroke-width="3.9" stroke-opacity="0.9"/><path d="M482.3 96.9L498.5 87.2" stroke="#2f72a8" stroke-width="3.9" stroke-opacity="0.9"/><path d="M498.5 87.2L508.8 81.0" stroke="#d6da2c" stroke-width="3.9" stroke-opacity="0.9"/>
<circle cx="482.3" cy="96.9" r="11.2" fill="url(#gb)" fill-opacity="0.95"/>
<circle cx="482.3" cy="96.9" r="11.5" fill="#40b8b8" fill-opacity="0.12" stroke="#2a9a98" stroke-opacity="0.65" stroke-width="1"/>
<ellipse cx="592.0" cy="30.3" rx="7.3" ry="7" fill="url(#pc)" fill-opacity="0.93" stroke="#3aa8a0" stroke-opacity="0.8" stroke-width="1" transform="rotate(-30 592.0 30.3)"/>
<ellipse cx="578.5" cy="54.8" rx="6.5" ry="7" fill="url(#pp)" fill-opacity="0.93" stroke="#a84cbc" stroke-opacity="0.8" stroke-width="1"/>
<circle cx="579.8" cy="40.8" r="11" fill="#40b8b8" fill-opacity="0.12" stroke="#2a9a98" stroke-opacity="0.65" stroke-width="1"/>
<ellipse cx="546.8" cy="148.7" rx="13" ry="11" fill="url(#pc)" fill-opacity="0.93" stroke="#3aa8a0" stroke-opacity="0.8" stroke-width="1"/>
<ellipse cx="548.5" cy="125.3" rx="16.4" ry="11" fill="url(#pc)" fill-opacity="0.93" stroke="#3aa8a0" stroke-opacity="0.8" stroke-width="1"/>
<circle cx="547.3" cy="133.9" r="8.1" fill="url(#gy)" fill-opacity="1"/>
<ellipse cx="551.5" cy="98.6" rx="17.2" ry="15.7" fill="url(#pc)" fill-opacity="0.93" stroke="#3aa8a0" stroke-opacity="0.8" stroke-width="1"/>
<ellipse cx="572.8" cy="82.1" rx="13" ry="14.8" fill="url(#pc)" fill-opacity="0.93" stroke="#3aa8a0" stroke-opacity="0.8" stroke-width="1"/>
<ellipse cx="590.5" cy="71.0" rx="12.3" ry="12.3" fill="url(#pc)" fill-opacity="0.93" stroke="#3aa8a0" stroke-opacity="0.8" stroke-width="1"/>
<circle cx="579.8" cy="77.6" r="8.1" fill="url(#gy)" fill-opacity="1"/>
<path d="M567.0 87.5L579.8 77.6" stroke="#d6da2c" stroke-width="3.4"/>
<path d="M549.1 118.4L547.3 133.9" stroke="#d6da2c" stroke-width="3.4"/>
<path d="M551.4 99.5L567.0 87.5" stroke="#3ee83e" stroke-width="3.4"/>
<path d="M551.4 99.5L549.1 118.4" stroke="#3ee83e" stroke-width="3.4"/>
<circle cx="551.4" cy="99.5" r="8.5" fill="url(#gg)"/>
<ellipse cx="478.5" cy="159.9" rx="26.5" ry="11" fill="url(#pp)" fill-opacity="0.93" stroke="#a84cbc" stroke-opacity="0.8" stroke-width="1" transform="rotate(2 478.5 159.9)"/>
<ellipse cx="437.0" cy="143.6" rx="10" ry="9" fill="url(#pp)" fill-opacity="0.93" stroke="#a84cbc" stroke-opacity="0.8" stroke-width="1"/>
<path d="M449.8 153.4L449.8 171.8" stroke="#2f72a8" stroke-width="3.9" stroke-opacity="0.9"/><path d="M449.8 171.8L449.8 183.2" stroke="#d6da2c" stroke-width="3.9" stroke-opacity="0.9"/><path d="M449.8 153.4L433.5 143.6" stroke="#2f72a8" stroke-width="3.9" stroke-opacity="0.9"/><path d="M433.5 143.6L423.3 137.5" stroke="#d6da2c" stroke-width="3.9" stroke-opacity="0.9"/><path d="M449.8 153.4L466.0 143.6" stroke="#2f72a8" stroke-width="3.9" stroke-opacity="0.9"/><path d="M466.0 143.6L476.3 137.5" stroke="#d6da2c" stroke-width="3.9" stroke-opacity="0.9"/>
<circle cx="449.8" cy="153.4" r="11.2" fill="url(#gb)" fill-opacity="0.95"/>
<circle cx="449.8" cy="153.4" r="12.5" fill="#c070d8" fill-opacity="0.12" stroke="#9038a8" stroke-opacity="0.65" stroke-width="1"/>
<ellipse cx="459.0" cy="193.8" rx="16.5" ry="18" fill="url(#pp)" fill-opacity="0.93" stroke="#a84cbc" stroke-opacity="0.8" stroke-width="1"/>
<ellipse cx="440.6" cy="183.3" rx="15.5" ry="15.5" fill="url(#pp)" fill-opacity="0.9" stroke="#a84cbc" stroke-opacity="0.8" stroke-width="1"/>
<path d="M451.0 190.7L451.0 173.7M451.0 190.7L436.0 199.4" stroke="#e8a070" stroke-opacity="0.85" stroke-width="3.6"/>
<circle cx="451.0" cy="190.7" r="8.1" fill="url(#gy)" fill-opacity="1"/>
<ellipse cx="403.9" cy="203.9" rx="10.8" ry="11.8" fill="url(#pp)" fill-opacity="0.93" stroke="#a84cbc" stroke-opacity="0.8" stroke-width="1"/>
<ellipse cx="439.8" cy="226.0" rx="27" ry="10.5" fill="url(#pp)" fill-opacity="0.93" stroke="#a84cbc" stroke-opacity="0.8" stroke-width="1" transform="rotate(56 439.8 226.0)"/>
<path d="M417.3 209.5L417.3 227.9" stroke="#2f72a8" stroke-width="3.9" stroke-opacity="0.9"/><path d="M417.3 227.9L417.3 239.3" stroke="#d6da2c" stroke-width="3.9" stroke-opacity="0.9"/><path d="M417.3 209.5L401.0 199.8" stroke="#2f72a8" stroke-width="3.9" stroke-opacity="0.9"/><path d="M401.0 199.8L390.8 193.6" stroke="#d6da2c" stroke-width="3.9" stroke-opacity="0.9"/><path d="M417.3 209.5L433.5 199.8" stroke="#2f72a8" stroke-width="3.9" stroke-opacity="0.9"/><path d="M433.5 199.8L443.8 193.6" stroke="#d6da2c" stroke-width="3.9" stroke-opacity="0.9"/>
<circle cx="417.3" cy="209.5" r="11.2" fill="url(#gb)" fill-opacity="0.95"/>
<circle cx="417.3" cy="209.5" r="11.5" fill="#c070d8" fill-opacity="0.12" stroke="#9038a8" stroke-opacity="0.65" stroke-width="1"/>
<ellipse cx="527.0" cy="142.9" rx="7.3" ry="7" fill="url(#pp)" fill-opacity="0.93" stroke="#a84cbc" stroke-opacity="0.8" stroke-width="1" transform="rotate(-30 527.0 142.9)"/>
<ellipse cx="513.5" cy="167.4" rx="6.5" ry="7" fill="url(#pc)" fill-opacity="0.93" stroke="#3aa8a0" stroke-opacity="0.8" stroke-width="1"/>
<circle cx="514.8" cy="153.4" r="11" fill="#c070d8" fill-opacity="0.12" stroke="#9038a8" stroke-opacity="0.65" stroke-width="1"/>
<ellipse cx="481.8" cy="261.3" rx="13" ry="11" fill="url(#pp)" fill-opacity="0.93" stroke="#a84cbc" stroke-opacity="0.8" stroke-width="1"/>
<ellipse cx="483.5" cy="237.9" rx="16.4" ry="11" fill="url(#pp)" fill-opacity="0.93" stroke="#a84cbc" stroke-opacity="0.8" stroke-width="1"/>
<circle cx="482.3" cy="246.5" r="8.1" fill="url(#gy)" fill-opacity="1"/>
<ellipse cx="486.5" cy="211.2" rx="17.2" ry="15.7" fill="url(#pp)" fill-opacity="0.93" stroke="#a84cbc" stroke-opacity="0.8" stroke-width="1"/>
<ellipse cx="507.8" cy="194.7" rx="13" ry="14.8" fill="url(#pp)" fill-opacity="0.93" stroke="#a84cbc" stroke-opacity="0.8" stroke-width="1"/>
<ellipse cx="525.5" cy="183.6" rx="12.3" ry="12.3" fill="url(#pp)" fill-opacity="0.93" stroke="#a84cbc" stroke-opacity="0.8" stroke-width="1"/>
<circle cx="514.8" cy="190.2" r="8.1" fill="url(#gy)" fill-opacity="1"/>
<path d="M502.0 200.1L514.8 190.2" stroke="#d6da2c" stroke-width="3.4"/>
<path d="M484.1 231.0L482.3 246.5" stroke="#d6da2c" stroke-width="3.4"/>
<path d="M486.4 212.1L502.0 200.1" stroke="#3ee83e" stroke-width="3.4"/>
<path d="M486.4 212.1L484.1 231.0" stroke="#3ee83e" stroke-width="3.4"/>
<circle cx="486.4" cy="212.1" r="8.5" fill="url(#gg)"/>
<ellipse cx="608.5" cy="-65.3" rx="26.5" ry="11" fill="url(#pp)" fill-opacity="0.93" stroke="#a84cbc" stroke-opacity="0.8" stroke-width="1" transform="rotate(2 608.5 -65.3)"/>
<ellipse cx="567.0" cy="-81.6" rx="10" ry="9" fill="url(#pp)" fill-opacity="0.93" stroke="#a84cbc" stroke-opacity="0.8" stroke-width="1"/>
<path d="M579.8 -71.8L579.8 -53.4" stroke="#2f72a8" stroke-width="3.9" stroke-opacity="0.9"/><path d="M579.8 -53.4L579.8 -42.0" stroke="#d6da2c" stroke-width="3.9" stroke-opacity="0.9"/><path d="M579.8 -71.8L563.5 -81.5" stroke="#2f72a8" stroke-width="3.9" stroke-opacity="0.9"/><path d="M563.5 -81.5L553.3 -87.7" stroke="#d6da2c" stroke-width="3.9" stroke-opacity="0.9"/><path d="M579.8 -71.8L596.0 -81.5" stroke="#2f72a8" stroke-width="3.9" stroke-opacity="0.9"/><path d="M596.0 -81.5L606.3 -87.7" stroke="#d6da2c" stroke-width="3.9" stroke-opacity="0.9"/>
<circle cx="579.8" cy="-71.8" r="11.2" fill="url(#gb)" fill-opacity="0.95"/>
<circle cx="579.8" cy="-71.8" r="12.5" fill="#c070d8" fill-opacity="0.12" stroke="#9038a8" stroke-opacity="0.65" stroke-width="1"/>
<ellipse cx="589.0" cy="-31.4" rx="16.5" ry="18" fill="url(#pp)" fill-opacity="0.93" stroke="#a84cbc" stroke-opacity="0.8" stroke-width="1"/>
<ellipse cx="570.6" cy="-41.9" rx="15.5" ry="15.5" fill="url(#pp)" fill-opacity="0.9" stroke="#a84cbc" stroke-opacity="0.8" stroke-width="1"/>
<path d="M581.0 -34.5L581.0 -51.5M581.0 -34.5L566.0 -25.8" stroke="#e8a070" stroke-opacity="0.85" stroke-width="3.6"/>
<circle cx="581.0" cy="-34.5" r="8.1" fill="url(#gy)" fill-opacity="1"/>
<ellipse cx="533.9" cy="-21.3" rx="10.8" ry="11.8" fill="url(#pp)" fill-opacity="0.93" stroke="#a84cbc" stroke-opacity="0.8" stroke-width="1"/>
<ellipse cx="569.8" cy="0.8" rx="27" ry="10.5" fill="url(#pp)" fill-opacity="0.93" stroke="#a84cbc" stroke-opacity="0.8" stroke-width="1" transform="rotate(56 569.8 0.8)"/>
<path d="M547.3 -15.7L547.3 2.7" stroke="#2f72a8" stroke-width="3.9" stroke-opacity="0.9"/><path d="M547.3 2.7L547.3 14.1" stroke="#d6da2c" stroke-width="3.9" stroke-opacity="0.9"/><path d="M547.3 -15.7L531.0 -25.4" stroke="#2f72a8" stroke-width="3.9" stroke-opacity="0.9"/><path d="M531.0 -25.4L520.8 -31.6" stroke="#d6da2c" stroke-width="3.9" stroke-opacity="0.9"/><path d="M547.3 -15.7L563.5 -25.4" stroke="#2f72a8" stroke-width="3.9" stroke-opacity="0.9"/><path d="M563.5 -25.4L573.8 -31.6" stroke="#d6da2c" stroke-width="3.9" stroke-opacity="0.9"/>
<circle cx="547.3" cy="-15.7" r="11.2" fill="url(#gb)" fill-opacity="0.95"/>
<circle cx="547.3" cy="-15.7" r="11.5" fill="#c070d8" fill-opacity="0.12" stroke="#9038a8" stroke-opacity="0.65" stroke-width="1"/>
<ellipse cx="657.0" cy="-82.3" rx="7.3" ry="7" fill="url(#pp)" fill-opacity="0.93" stroke="#a84cbc" stroke-opacity="0.8" stroke-width="1" transform="rotate(-30 657.0 -82.3)"/>
<ellipse cx="643.5" cy="-57.8" rx="6.5" ry="7" fill="url(#pc)" fill-opacity="0.93" stroke="#3aa8a0" stroke-opacity="0.8" stroke-width="1"/>
<circle cx="644.8" cy="-71.8" r="11" fill="#c070d8" fill-opacity="0.12" stroke="#9038a8" stroke-opacity="0.65" stroke-width="1"/>
<ellipse cx="611.8" cy="36.1" rx="13" ry="11" fill="url(#pp)" fill-opacity="0.93" stroke="#a84cbc" stroke-opacity="0.8" stroke-width="1"/>
<ellipse cx="613.5" cy="12.7" rx="16.4" ry="11" fill="url(#pp)" fill-opacity="0.93" stroke="#a84cbc" stroke-opacity="0.8" stroke-width="1"/>
<circle cx="612.3" cy="21.3" r="8.1" fill="url(#gy)" fill-opacity="1"/>
<ellipse cx="616.5" cy="-14.0" rx="17.2" ry="15.7" fill="url(#pp)" fill-opacity="0.93" stroke="#a84cbc" stroke-opacity="0.8" stroke-width="1"/>
<ellipse cx="637.8" cy="-30.5" rx="13" ry="14.8" fill="url(#pp)" fill-opacity="0.93" stroke="#a84cbc" stroke-opacity="0.8" stroke-width="1"/>
<ellipse cx="655.5" cy="-41.6" rx="12.3" ry="12.3" fill="url(#pp)" fill-opacity="0.93" stroke="#a84cbc" stroke-opacity="0.8" stroke-width="1"/>
<circle cx="644.8" cy="-35.0" r="8.1" fill="url(#gy)" fill-opacity="1"/>
<ellipse cx="413.5" cy="272.5" rx="26.5" ry="11" fill="url(#pc)" fill-opacity="0.93" stroke="#3aa8a0" stroke-opacity="0.8" stroke-width="1" transform="rotate(2 413.5 272.5)"/>
<ellipse cx="372.0" cy="256.2" rx="10" ry="9" fill="url(#pc)" fill-opacity="0.93" stroke="#3aa8a0" stroke-opacity="0.8" stroke-width="1"/>
<path d="M384.8 266.0L384.8 284.4" stroke="#2f72a8" stroke-width="3.9" stroke-opacity="0.9"/><path d="M384.8 284.4L384.8 295.8" stroke="#d6da2c" stroke-width="3.9" stroke-opacity="0.9"/><path d="M384.8 266.0L368.5 256.2" stroke="#2f72a8" stroke-width="3.9" stroke-opacity="0.9"/><path d="M368.5 256.2L358.3 250.1" stroke="#d6da2c" stroke-width="3.9" stroke-opacity="0.9"/><path d="M384.8 266.0L401.0 256.2" stroke="#2f72a8" stroke-width="3.9" stroke-opacity="0.9"/><path d="M401.0 256.2L411.3 250.1" stroke="#d6da2c" stroke-width="3.9" stroke-opacity="0.9"/>
<circle cx="384.8" cy="266.0" r="11.2" fill="url(#gb)" fill-opacity="0.95"/>
<circle cx="384.8" cy="266.0" r="12.5" fill="#40b8b8" fill-opacity="0.12" stroke="#2a9a98" stroke-opacity="0.65" stroke-width="1"/>
<ellipse cx="394.0" cy="306.4" rx="16.5" ry="18" fill="url(#pc)" fill-opacity="0.93" stroke="#3aa8a0" stroke-opacity="0.8" stroke-width="1"/>
<ellipse cx="375.6" cy="295.9" rx="15.5" ry="15.5" fill="url(#pc)" fill-opacity="0.9" stroke="#3aa8a0" stroke-opacity="0.8" stroke-width="1"/>
<path d="M386.0 303.3L386.0 286.3M386.0 303.3L371.0 312.0" stroke="#a8e070" stroke-opacity="0.85" stroke-width="3.6"/>
<circle cx="386.0" cy="303.3" r="8.1" fill="url(#gy)" fill-opacity="1"/>
<ellipse cx="338.9" cy="316.5" rx="10.8" ry="11.8" fill="url(#pc)" fill-opacity="0.93" stroke="#3aa8a0" stroke-opacity="0.8" stroke-width="1"/>
<ellipse cx="374.8" cy="338.6" rx="27" ry="10.5" fill="url(#pc)" fill-opacity="0.93" stroke="#3aa8a0" stroke-opacity="0.8" stroke-width="1" transform="rotate(56 374.8 338.6)"/>
<path d="M352.3 322.1L352.3 340.5" stroke="#2f72a8" stroke-width="3.9" stroke-opacity="0.9"/><path d="M352.3 340.5L352.3 351.9" stroke="#d6da2c" stroke-width="3.9" stroke-opacity="0.9"/><path d="M352.3 322.1L336.0 312.3" stroke="#2f72a8" stroke-width="3.9" stroke-opacity="0.9"/><path d="M336.0 312.3L325.8 306.2" stroke="#d6da2c" stroke-width="3.9" stroke-opacity="0.9"/><path d="M352.3 322.1L368.5 312.3" stroke="#2f72a8" stroke-width="3.9" stroke-opacity="0.9"/><path d="M368.5 312.3L378.8 306.2" stroke="#d6da2c" stroke-width="3.9" stroke-opacity="0.9"/>
<circle cx="352.3" cy="322.1" r="11.2" fill="url(#gb)" fill-opacity="0.95"/>
<circle cx="352.3" cy="322.1" r="11.5" fill="#40b8b8" fill-opacity="0.12" stroke="#2a9a98" stroke-opacity="0.65" stroke-width="1"/>
<ellipse cx="462.0" cy="255.5" rx="7.3" ry="7" fill="url(#pc)" fill-opacity="0.93" stroke="#3aa8a0" stroke-opacity="0.8" stroke-width="1" transform="rotate(-30 462.0 255.5)"/>
<ellipse cx="448.5" cy="280.0" rx="6.5" ry="7" fill="url(#pp)" fill-opacity="0.93" stroke="#a84cbc" stroke-opacity="0.8" stroke-width="1"/>
<circle cx="449.8" cy="266.0" r="11" fill="#40b8b8" fill-opacity="0.12" stroke="#2a9a98" stroke-opacity="0.65" stroke-width="1"/>
<ellipse cx="416.8" cy="373.9" rx="13" ry="11" fill="url(#pc)" fill-opacity="0.93" stroke="#3aa8a0" stroke-opacity="0.8" stroke-width="1"/>
<ellipse cx="418.5" cy="350.5" rx="16.4" ry="11" fill="url(#pc)" fill-opacity="0.93" stroke="#3aa8a0" stroke-opacity="0.8" stroke-width="1"/>
<circle cx="417.3" cy="359.1" r="8.1" fill="url(#gy)" fill-opacity="1"/>
<ellipse cx="421.5" cy="323.8" rx="17.2" ry="15.7" fill="url(#pc)" fill-opacity="0.93" stroke="#3aa8a0" stroke-opacity="0.8" stroke-width="1"/>
<ellipse cx="442.8" cy="307.3" rx="13" ry="14.8" fill="url(#pc)" fill-opacity="0.93" stroke="#3aa8a0" stroke-opacity="0.8" stroke-width="1"/>
<ellipse cx="460.5" cy="296.2" rx="12.3" ry="12.3" fill="url(#pc)" fill-opacity="0.93" stroke="#3aa8a0" stroke-opacity="0.8" stroke-width="1"/>
<circle cx="449.8" cy="302.8" r="8.1" fill="url(#gy)" fill-opacity="1"/>
<ellipse cx="673.5" cy="272.5" rx="26.5" ry="11" fill="url(#pc)" fill-opacity="0.93" stroke="#3aa8a0" stroke-opacity="0.8" stroke-width="1" transform="rotate(2 673.5 272.5)"/>
<ellipse cx="632.0" cy="256.2" rx="10" ry="9" fill="url(#pc)" fill-opacity="0.93" stroke="#3aa8a0" stroke-opacity="0.8" stroke-width="1"/>
<path d="M644.8 266.0L644.8 284.4" stroke="#2f72a8" stroke-width="3.9" stroke-opacity="0.9"/><path d="M644.8 284.4L644.8 295.8" stroke="#d6da2c" stroke-width="3.9" stroke-opacity="0.9"/><path d="M644.8 266.0L628.5 256.2" stroke="#2f72a8" stroke-width="3.9" stroke-opacity="0.9"/><path d="M628.5 256.2L618.3 250.1" stroke="#d6da2c" stroke-width="3.9" stroke-opacity="0.9"/><path d="M644.8 266.0L661.0 256.2" stroke="#2f72a8" stroke-width="3.9" stroke-opacity="0.9"/><path d="M661.0 256.2L671.3 250.1" stroke="#d6da2c" stroke-width="3.9" stroke-opacity="0.9"/>
<circle cx="644.8" cy="266.0" r="11.2" fill="url(#gb)" fill-opacity="0.95"/>
<circle cx="644.8" cy="266.0" r="12.5" fill="#40b8b8" fill-opacity="0.12" stroke="#2a9a98" stroke-opacity="0.65" stroke-width="1"/>
<ellipse cx="654.0" cy="306.4" rx="16.5" ry="18" fill="url(#pc)" fill-opacity="0.93" stroke="#3aa8a0" stroke-opacity="0.8" stroke-width="1"/>
<ellipse cx="635.6" cy="295.9" rx="15.5" ry="15.5" fill="url(#pc)" fill-opacity="0.9" stroke="#3aa8a0" stroke-opacity="0.8" stroke-width="1"/>
<path d="M646.0 303.3L646.0 286.3M646.0 303.3L631.0 312.0" stroke="#a8e070" stroke-opacity="0.85" stroke-width="3.6"/>
<circle cx="646.0" cy="303.3" r="8.1" fill="url(#gy)" fill-opacity="1"/>
<ellipse cx="598.9" cy="316.5" rx="10.8" ry="11.8" fill="url(#pc)" fill-opacity="0.93" stroke="#3aa8a0" stroke-opacity="0.8" stroke-width="1"/>
<ellipse cx="634.8" cy="338.6" rx="27" ry="10.5" fill="url(#pc)" fill-opacity="0.93" stroke="#3aa8a0" stroke-opacity="0.8" stroke-width="1" transform="rotate(56 634.8 338.6)"/>
<path d="M612.3 322.1L612.3 340.5" stroke="#2f72a8" stroke-width="3.9" stroke-opacity="0.9"/><path d="M612.3 340.5L612.3 351.9" stroke="#d6da2c" stroke-width="3.9" stroke-opacity="0.9"/><path d="M612.3 322.1L596.0 312.3" stroke="#2f72a8" stroke-width="3.9" stroke-opacity="0.9"/><path d="M596.0 312.3L585.8 306.2" stroke="#d6da2c" stroke-width="3.9" stroke-opacity="0.9"/><path d="M612.3 322.1L628.5 312.3" stroke="#2f72a8" stroke-width="3.9" stroke-opacity="0.9"/><path d="M628.5 312.3L638.8 306.2" stroke="#d6da2c" stroke-width="3.9" stroke-opacity="0.9"/>
<circle cx="612.3" cy="322.1" r="11.2" fill="url(#gb)" fill-opacity="0.95"/>
<circle cx="612.3" cy="322.1" r="11.5" fill="#40b8b8" fill-opacity="0.12" stroke="#2a9a98" stroke-opacity="0.65" stroke-width="1"/>
<ellipse cx="722.0" cy="255.5" rx="7.3" ry="7" fill="url(#pc)" fill-opacity="0.93" stroke="#3aa8a0" stroke-opacity="0.8" stroke-width="1" transform="rotate(-30 722.0 255.5)"/>
<ellipse cx="708.5" cy="280.0" rx="6.5" ry="7" fill="url(#pp)" fill-opacity="0.93" stroke="#a84cbc" stroke-opacity="0.8" stroke-width="1"/>
<circle cx="709.8" cy="266.0" r="11" fill="#40b8b8" fill-opacity="0.12" stroke="#2a9a98" stroke-opacity="0.65" stroke-width="1"/>
<ellipse cx="676.8" cy="373.9" rx="13" ry="11" fill="url(#pc)" fill-opacity="0.93" stroke="#3aa8a0" stroke-opacity="0.8" stroke-width="1"/>
<ellipse cx="678.5" cy="350.5" rx="16.4" ry="11" fill="url(#pc)" fill-opacity="0.93" stroke="#3aa8a0" stroke-opacity="0.8" stroke-width="1"/>
<circle cx="677.3" cy="359.1" r="8.1" fill="url(#gy)" fill-opacity="1"/>
<ellipse cx="681.5" cy="323.8" rx="17.2" ry="15.7" fill="url(#pc)" fill-opacity="0.93" stroke="#3aa8a0" stroke-opacity="0.8" stroke-width="1"/>
<ellipse cx="702.8" cy="307.3" rx="13" ry="14.8" fill="url(#pc)" fill-opacity="0.93" stroke="#3aa8a0" stroke-opacity="0.8" stroke-width="1"/>
<ellipse cx="720.5" cy="296.2" rx="12.3" ry="12.3" fill="url(#pc)" fill-opacity="0.93" stroke="#3aa8a0" stroke-opacity="0.8" stroke-width="1"/>
<circle cx="709.8" cy="302.8" r="8.1" fill="url(#gy)" fill-opacity="1"/>
<ellipse cx="738.5" cy="159.9" rx="26.5" ry="11" fill="url(#pp)" fill-opacity="0.93" stroke="#a84cbc" stroke-opacity="0.8" stroke-width="1" transform="rotate(2 738.5 159.9)"/>
<ellipse cx="697.0" cy="143.6" rx="10" ry="9" fill="url(#pp)" fill-opacity="0.93" stroke="#a84cbc" stroke-opacity="0.8" stroke-width="1"/>
<path d="M709.8 153.4L709.8 171.8" stroke="#2f72a8" stroke-width="3.9" stroke-opacity="0.9"/><path d="M709.8 171.8L709.8 183.2" stroke="#d6da2c" stroke-width="3.9" stroke-opacity="0.9"/><path d="M709.8 153.4L693.5 143.6" stroke="#2f72a8" stroke-width="3.9" stroke-opacity="0.9"/><path d="M693.5 143.6L683.3 137.5" stroke="#d6da2c" stroke-width="3.9" stroke-opacity="0.9"/><path d="M709.8 153.4L726.0 143.6" stroke="#2f72a8" stroke-width="3.9" stroke-opacity="0.9"/><path d="M726.0 143.6L736.3 137.5" stroke="#d6da2c" stroke-width="3.9" stroke-opacity="0.9"/>
<circle cx="709.8" cy="153.4" r="11.2" fill="url(#gb)" fill-opacity="0.95"/>
<circle cx="709.8" cy="153.4" r="12.5" fill="#c070d8" fill-opacity="0.12" stroke="#9038a8" stroke-opacity="0.65" stroke-width="1"/>
<ellipse cx="719.0" cy="193.8" rx="16.5" ry="18" fill="url(#pp)" fill-opacity="0.93" stroke="#a84cbc" stroke-opacity="0.8" stroke-width="1"/>
<ellipse cx="700.6" cy="183.3" rx="15.5" ry="15.5" fill="url(#pp)" fill-opacity="0.9" stroke="#a84cbc" stroke-opacity="0.8" stroke-width="1"/>
<path d="M711.0 190.7L711.0 173.7M711.0 190.7L696.0 199.4" stroke="#e8a070" stroke-opacity="0.85" stroke-width="3.6"/>
<circle cx="711.0" cy="190.7" r="8.1" fill="url(#gy)" fill-opacity="1"/>
<ellipse cx="663.9" cy="203.9" rx="10.8" ry="11.8" fill="url(#pp)" fill-opacity="0.93" stroke="#a84cbc" stroke-opacity="0.8" stroke-width="1"/>
<ellipse cx="699.8" cy="226.0" rx="27" ry="10.5" fill="url(#pp)" fill-opacity="0.93" stroke="#a84cbc" stroke-opacity="0.8" stroke-width="1" transform="rotate(56 699.8 226.0)"/>
<path d="M677.3 209.5L677.3 227.9" stroke="#2f72a8" stroke-width="3.9" stroke-opacity="0.9"/><path d="M677.3 227.9L677.3 239.3" stroke="#d6da2c" stroke-width="3.9" stroke-opacity="0.9"/><path d="M677.3 209.5L661.0 199.8" stroke="#2f72a8" stroke-width="3.9" stroke-opacity="0.9"/><path d="M661.0 199.8L650.8 193.6" stroke="#d6da2c" stroke-width="3.9" stroke-opacity="0.9"/><path d="M677.3 209.5L693.5 199.8" stroke="#2f72a8" stroke-width="3.9" stroke-opacity="0.9"/><path d="M693.5 199.8L703.8 193.6" stroke="#d6da2c" stroke-width="3.9" stroke-opacity="0.9"/>
<circle cx="677.3" cy="209.5" r="11.2" fill="url(#gb)" fill-opacity="0.95"/>
<circle cx="677.3" cy="209.5" r="11.5" fill="#c070d8" fill-opacity="0.12" stroke="#9038a8" stroke-opacity="0.65" stroke-width="1"/>
<ellipse cx="787.0" cy="142.9" rx="7.3" ry="7" fill="url(#pp)" fill-opacity="0.93" stroke="#a84cbc" stroke-opacity="0.8" stroke-width="1" transform="rotate(-30 787.0 142.9)"/>
<ellipse cx="773.5" cy="167.4" rx="6.5" ry="7" fill="url(#pc)" fill-opacity="0.93" stroke="#3aa8a0" stroke-opacity="0.8" stroke-width="1"/>
<circle cx="774.8" cy="153.4" r="11" fill="#c070d8" fill-opacity="0.12" stroke="#9038a8" stroke-opacity="0.65" stroke-width="1"/>
<ellipse cx="741.8" cy="261.3" rx="13" ry="11" fill="url(#pp)" fill-opacity="0.93" stroke="#a84cbc" stroke-opacity="0.8" stroke-width="1"/>
<ellipse cx="743.5" cy="237.9" rx="16.4" ry="11" fill="url(#pp)" fill-opacity="0.93" stroke="#a84cbc" stroke-opacity="0.8" stroke-width="1"/>
<circle cx="742.3" cy="246.5" r="8.1" fill="url(#gy)" fill-opacity="1"/>
<ellipse cx="746.5" cy="211.2" rx="17.2" ry="15.7" fill="url(#pp)" fill-opacity="0.93" stroke="#a84cbc" stroke-opacity="0.8" stroke-width="1"/>
<ellipse cx="767.8" cy="194.7" rx="13" ry="14.8" fill="url(#pp)" fill-opacity="0.93" stroke="#a84cbc" stroke-opacity="0.8" stroke-width="1"/>
<ellipse cx="785.5" cy="183.6" rx="12.3" ry="12.3" fill="url(#pp)" fill-opacity="0.93" stroke="#a84cbc" stroke-opacity="0.8" stroke-width="1"/>
<circle cx="774.8" cy="190.2" r="8.1" fill="url(#gy)" fill-opacity="1"/>
<ellipse cx="283.5" cy="47.3" rx="26.5" ry="11" fill="url(#pc)" fill-opacity="0.93" stroke="#3aa8a0" stroke-opacity="0.8" stroke-width="1" transform="rotate(2 283.5 47.3)"/>
<ellipse cx="242.0" cy="31.0" rx="10" ry="9" fill="url(#pc)" fill-opacity="0.93" stroke="#3aa8a0" stroke-opacity="0.8" stroke-width="1"/>
<path d="M254.8 40.8L254.8 59.2" stroke="#2f72a8" stroke-width="3.9" stroke-opacity="0.9"/><path d="M254.8 59.2L254.8 70.6" stroke="#d6da2c" stroke-width="3.9" stroke-opacity="0.9"/><path d="M254.8 40.8L238.5 31.0" stroke="#2f72a8" stroke-width="3.9" stroke-opacity="0.9"/><path d="M238.5 31.0L228.3 24.9" stroke="#d6da2c" stroke-width="3.9" stroke-opacity="0.9"/><path d="M254.8 40.8L271.0 31.0" stroke="#2f72a8" stroke-width="3.9" stroke-opacity="0.9"/><path d="M271.0 31.0L281.3 24.9" stroke="#d6da2c" stroke-width="3.9" stroke-opacity="0.9"/>
<circle cx="254.8" cy="40.8" r="11.2" fill="url(#gb)" fill-opacity="0.95"/>
<circle cx="254.8" cy="40.8" r="12.5" fill="#40b8b8" fill-opacity="0.12" stroke="#2a9a98" stroke-opacity="0.65" stroke-width="1"/>
<ellipse cx="264.0" cy="81.2" rx="16.5" ry="18" fill="url(#pc)" fill-opacity="0.93" stroke="#3aa8a0" stroke-opacity="0.8" stroke-width="1"/>
<ellipse cx="245.6" cy="70.7" rx="15.5" ry="15.5" fill="url(#pc)" fill-opacity="0.9" stroke="#3aa8a0" stroke-opacity="0.8" stroke-width="1"/>
<path d="M256.0 78.1L256.0 61.1M256.0 78.1L241.0 86.8" stroke="#a8e070" stroke-opacity="0.85" stroke-width="3.6"/>
<circle cx="256.0" cy="78.1" r="8.1" fill="url(#gy)" fill-opacity="1"/>
<ellipse cx="208.9" cy="91.3" rx="10.8" ry="11.8" fill="url(#pc)" fill-opacity="0.93" stroke="#3aa8a0" stroke-opacity="0.8" stroke-width="1"/>
<ellipse cx="244.8" cy="113.4" rx="27" ry="10.5" fill="url(#pc)" fill-opacity="0.93" stroke="#3aa8a0" stroke-opacity="0.8" stroke-width="1" transform="rotate(56 244.8 113.4)"/>
<path d="M222.3 96.9L222.3 115.3" stroke="#2f72a8" stroke-width="3.9" stroke-opacity="0.9"/><path d="M222.3 115.3L222.3 126.7" stroke="#d6da2c" stroke-width="3.9" stroke-opacity="0.9"/><path d="M222.3 96.9L206.0 87.2" stroke="#2f72a8" stroke-width="3.9" stroke-opacity="0.9"/><path d="M206.0 87.2L195.8 81.0" stroke="#d6da2c" stroke-width="3.9" stroke-opacity="0.9"/><path d="M222.3 96.9L238.5 87.2" stroke="#2f72a8" stroke-width="3.9" stroke-opacity="0.9"/><path d="M238.5 87.2L248.8 81.0" stroke="#d6da2c" stroke-width="3.9" stroke-opacity="0.9"/>
<circle cx="222.3" cy="96.9" r="11.2" fill="url(#gb)" fill-opacity="0.95"/>
<circle cx="222.3" cy="96.9" r="11.5" fill="#40b8b8" fill-opacity="0.12" stroke="#2a9a98" stroke-opacity="0.65" stroke-width="1"/>
<ellipse cx="332.0" cy="30.3" rx="7.3" ry="7" fill="url(#pc)" fill-opacity="0.93" stroke="#3aa8a0" stroke-opacity="0.8" stroke-width="1" transform="rotate(-30 332.0 30.3)"/>
<ellipse cx="318.5" cy="54.8" rx="6.5" ry="7" fill="url(#pp)" fill-opacity="0.93" stroke="#a84cbc" stroke-opacity="0.8" stroke-width="1"/>
<circle cx="319.8" cy="40.8" r="11" fill="#40b8b8" fill-opacity="0.12" stroke="#2a9a98" stroke-opacity="0.65" stroke-width="1"/>
<ellipse cx="286.8" cy="148.7" rx="13" ry="11" fill="url(#pc)" fill-opacity="0.93" stroke="#3aa8a0" stroke-opacity="0.8" stroke-width="1"/>
<ellipse cx="288.5" cy="125.3" rx="16.4" ry="11" fill="url(#pc)" fill-opacity="0.93" stroke="#3aa8a0" stroke-opacity="0.8" stroke-width="1"/>
<circle cx="287.3" cy="133.9" r="8.1" fill="url(#gy)" fill-opacity="1"/>
<ellipse cx="291.5" cy="98.6" rx="17.2" ry="15.7" fill="url(#pc)" fill-opacity="0.93" stroke="#3aa8a0" stroke-opacity="0.8" stroke-width="1"/>
<ellipse cx="312.8" cy="82.1" rx="13" ry="14.8" fill="url(#pc)" fill-opacity="0.93" stroke="#3aa8a0" stroke-opacity="0.8" stroke-width="1"/>
<ellipse cx="330.5" cy="71.0" rx="12.3" ry="12.3" fill="url(#pc)" fill-opacity="0.93" stroke="#3aa8a0" stroke-opacity="0.8" stroke-width="1"/>
<circle cx="319.8" cy="77.6" r="8.1" fill="url(#gy)" fill-opacity="1"/></g>
<rect x="27.5" y="4.5" width="290.5" height="282" fill="none" stroke="#555" stroke-width="1.3"/>
<rect x="369.8" y="4.5" width="289.5" height="282" fill="none" stroke="#555" stroke-width="1.3"/>
<rect x="77.9" y="388.3" width="39.8" height="152.3" fill="url(#gr)" stroke="#d8a0a6" stroke-width="0.8"/>
<rect x="117.7" y="397.6" width="39.8" height="143.0" fill="url(#gc)" stroke="#5cb8d6" stroke-width="0.8"/>
<text x="80.88" y="382.33" font-size="16.6" textLength="33.92" lengthAdjust="spacingAndGlyphs" fill="#222" style="font-family:'Liberation Sans',sans-serif">3.13</text>
<text x="120.46" y="391.57" font-size="16.6" textLength="33.92" lengthAdjust="spacingAndGlyphs" fill="#222" style="font-family:'Liberation Sans',sans-serif">2.94</text>
<rect x="176.1" y="442.8" width="39.8" height="97.8" fill="url(#gr)" stroke="#d8a0a6" stroke-width="0.8"/>
<rect x="215.9" y="466.7" width="39.8" height="73.9" fill="url(#gc)" stroke="#5cb8d6" stroke-width="0.8"/>
<text x="179.06" y="436.81" font-size="16.6" textLength="33.92" lengthAdjust="spacingAndGlyphs" fill="#222" style="font-family:'Liberation Sans',sans-serif">2.01</text>
<text x="218.65" y="460.65" font-size="16.6" textLength="33.92" lengthAdjust="spacingAndGlyphs" fill="#222" style="font-family:'Liberation Sans',sans-serif">1.52</text>
<rect x="274.4" y="449.6" width="39.8" height="91.0" fill="url(#gr)" stroke="#d8a0a6" stroke-width="0.8"/>
<rect x="314.2" y="488.5" width="39.8" height="52.1" fill="url(#gc)" stroke="#5cb8d6" stroke-width="0.8"/>
<text x="277.09" y="443.62" font-size="16.6" textLength="33.92" lengthAdjust="spacingAndGlyphs" fill="#222" style="font-family:'Liberation Sans',sans-serif">1.87</text>
<text x="316.89" y="482.54" font-size="16.6" textLength="33.92" lengthAdjust="spacingAndGlyphs" fill="#222" style="font-family:'Liberation Sans',sans-serif">1.07</text>
<rect x="372.6" y="410.2" width="39.8" height="130.4" fill="url(#gr)" stroke="#d8a0a6" stroke-width="0.8"/>
<rect x="412.4" y="430.7" width="39.8" height="109.9" fill="url(#gc)" stroke="#5cb8d6" stroke-width="0.8"/>
<text x="375.50" y="404.22" font-size="16.6" textLength="33.92" lengthAdjust="spacingAndGlyphs" fill="#222" style="font-family:'Liberation Sans',sans-serif">2.68</text>
<text x="415.30" y="424.65" font-size="16.6" textLength="33.92" lengthAdjust="spacingAndGlyphs" fill="#222" style="font-family:'Liberation Sans',sans-serif">2.26</text>
<rect x="470.9" y="458.9" width="39.8" height="81.7" fill="url(#gr)" stroke="#d8a0a6" stroke-width="0.8"/>
<rect x="510.7" y="468.1" width="39.8" height="72.5" fill="url(#gc)" stroke="#5cb8d6" stroke-width="0.8"/>
<text x="473.51" y="452.87" font-size="16.6" textLength="33.92" lengthAdjust="spacingAndGlyphs" fill="#222" style="font-family:'Liberation Sans',sans-serif">1.68</text>
<text x="513.35" y="462.11" font-size="16.6" textLength="33.92" lengthAdjust="spacingAndGlyphs" fill="#222" style="font-family:'Liberation Sans',sans-serif">1.49</text>
<rect x="569.1" y="492.4" width="39.8" height="48.2" fill="url(#gr)" stroke="#d8a0a6" stroke-width="0.8"/>
<rect x="608.9" y="513.8" width="39.8" height="26.8" fill="url(#gc)" stroke="#5cb8d6" stroke-width="0.8"/>
<text x="572.11" y="486.44" font-size="16.6" textLength="33.92" lengthAdjust="spacingAndGlyphs" fill="#222" style="font-family:'Liberation Sans',sans-serif">0.99</text>
<text x="611.86" y="507.84" font-size="16.6" textLength="33.92" lengthAdjust="spacingAndGlyphs" fill="#222" style="font-family:'Liberation Sans',sans-serif">0.55</text>
<defs><linearGradient id="phbg" x1="0" y1="0" x2="0" y2="1">
<stop offset="0" stop-color="#a8a8a8"/><stop offset="0.42" stop-color="#b0b0b0"/><stop offset="0.56" stop-color="#c8c8c6"/><stop offset="0.62" stop-color="#d0d0ce"/><stop offset="0.72" stop-color="#c4c4c2"/><stop offset="1" stop-color="#bcbcba"/>
</linearGradient>
<linearGradient id="vial" x1="0" y1="0" x2="1" y2="0">
<stop offset="0" stop-color="#8e8e8c"/><stop offset="0.12" stop-color="#bcbcba"/><stop offset="0.3" stop-color="#cacac8"/><stop offset="0.7" stop-color="#c4c4c2"/><stop offset="0.88" stop-color="#bdbdbb"/><stop offset="1" stop-color="#8e8e8c"/>
</linearGradient>
<linearGradient id="liq" x1="0" y1="0" x2="1" y2="0">
<stop offset="0" stop-color="#a8a896"/><stop offset="0.15" stop-color="#dcdcc4"/><stop offset="0.8" stop-color="#e2e2cc"/><stop offset="1" stop-color="#a8a896"/>
</linearGradient>
<linearGradient id="cap" x1="0" y1="0" x2="0" y2="1">
<stop offset="0" stop-color="#e2e2e0"/><stop offset="0.7" stop-color="#d6d6d4"/><stop offset="1" stop-color="#b8b8b6"/>
</linearGradient></defs>
<rect x="175.5" y="325" width="192" height="97.3" fill="url(#phbg)"/>
<rect x="188.5" y="355.6" width="20.30000000000001" height="45.89999999999998" rx="1.5" fill="url(#vial)"/><rect x="188.5" y="346.6" width="20.30000000000001" height="10" rx="1.5" fill="url(#cap)"/><rect x="189.1" y="382.9" width="19.100000000000012" height="18.600000000000023" rx="1.5" fill="url(#liq)"/><rect x="189.1" y="382.9" width="19.100000000000012" height="1.2" fill="#9a9a88"/><rect x="189.5" y="398.5" width="18.30000000000001" height="3" fill="#6a6a60"/>
<rect x="240.6" y="356" width="17.200000000000017" height="45.5" rx="1.5" fill="url(#vial)"/><rect x="240.6" y="347" width="17.200000000000017" height="10" rx="1.5" fill="url(#cap)"/><rect x="241.2" y="381.3" width="16.000000000000018" height="20.19999999999999" rx="1.5" fill="url(#liq)"/><rect x="241.2" y="381.3" width="16.000000000000018" height="1.2" fill="#9a9a88"/><path d="M242.1 400.5Q244.6 393.5 249.2 394.5Q254.8 395.5 256.3 398.5L256.3 401.5L242.1 401.5Z" fill="#34342c"/><rect x="241.6" y="398.5" width="15.200000000000017" height="3" fill="#6a6a60"/>
<rect x="291.8" y="355.8" width="16.599999999999966" height="43.099999999999966" rx="1.5" fill="url(#vial)"/><rect x="291.8" y="346.8" width="16.599999999999966" height="10" rx="1.5" fill="url(#cap)"/><rect x="292.40000000000003" y="380.3" width="15.399999999999967" height="18.599999999999966" rx="1.5" fill="url(#liq)"/><rect x="292.40000000000003" y="380.3" width="15.399999999999967" height="1.2" fill="#9a9a88"/><path d="M293.3 397.9Q295.8 387.9 300.1 388.9Q305.4 389.9 306.9 395.9L306.9 398.9L293.3 398.9Z" fill="#34342c"/><rect x="292.8" y="395.9" width="14.599999999999966" height="3" fill="#6a6a60"/>
<rect x="339.5" y="355.8" width="17.80000000000001" height="42.69999999999999" rx="1.5" fill="url(#vial)"/><rect x="339.5" y="346.8" width="17.80000000000001" height="10" rx="1.5" fill="url(#cap)"/><rect x="340.1" y="378.8" width="16.600000000000012" height="19.69999999999999" rx="1.5" fill="url(#liq)"/><rect x="340.1" y="378.8" width="16.600000000000012" height="1.2" fill="#9a9a88"/><path d="M341.0 397.5Q343.5 393.5 348.4 394.5Q354.3 395.5 355.8 395.5L355.8 398.5L341.0 398.5Z" fill="#34342c"/><rect x="340.5" y="395.5" width="15.800000000000011" height="3" fill="#6a6a60"/>
<rect x="209.3" y="350" width="28.9" height="25.9" fill="#e4e4e2" stroke="#f4f4f4" stroke-width="1.6" stroke-dasharray="1.6 1.2"/>
<rect x="212.5" y="353" width="22.5" height="20" fill="#5a5a56"/>
<rect x="214.5" y="353.5" width="4" height="19" fill="#2a2a24"/><rect x="230" y="353.5" width="4" height="19" fill="#2a2a24"/>
<rect x="219.5" y="353" width="9" height="20" fill="#a8a8a2"/><rect x="220" y="367" width="8" height="5" fill="#c8c8a0"/>
<text x="178.84" y="345.50" font-size="11.3" textLength="44.66" lengthAdjust="spacingAndGlyphs" fill="#f2f2f2" style="font-family:'Liberation Serif',serif">CNF/CoS</text>
<text x="223.5" y="348" font-size="7" fill="#f2f2f2" style="font-family:'Liberation Serif',serif">x</text>
<text x="239.55" y="345.50" font-size="11.3" textLength="21.13" lengthAdjust="spacingAndGlyphs" fill="#f2f2f2" style="font-family:'Liberation Serif',serif">CNF</text>
<text x="280.24" y="343.80" font-size="11.3" textLength="44.66" lengthAdjust="spacingAndGlyphs" fill="#f2f2f2" style="font-family:'Liberation Serif',serif">CNF/CoS</text>
<text x="325" y="346.3" font-size="7" fill="#f2f2f2" style="font-family:'Liberation Serif',serif">x</text>
<text x="339.73" y="343.80" font-size="11.3" textLength="22.48" lengthAdjust="spacingAndGlyphs" fill="#f2f2f2" style="font-family:'Liberation Serif',serif">CNF</text>
<text x="213.40" y="406.90" font-size="12" textLength="25.96" lengthAdjust="spacingAndGlyphs" fill="#f6f6f6" style="font-family:'Liberation Serif',serif" font-weight="bold">M on</text>
<text x="308.80" y="406.40" font-size="12" textLength="28.28" lengthAdjust="spacingAndGlyphs" fill="#f6f6f6" style="font-family:'Liberation Serif',serif" font-weight="bold">M off</text>
<text x="239.07" y="417.30" font-size="15.3" textLength="86.76" lengthAdjust="spacingAndGlyphs" fill="#f4f4f4" style="font-family:'Liberation Serif',serif">After 12 hours</text>
<path d="M69.2 321.8V540.6H657.7V321.8Z" fill="none" stroke="#444" stroke-width="1.5"/>
<path d="M69.2 540.6h5.5" stroke="#444" stroke-width="1.4"/>
<text x="51.97" y="547.00" font-size="18.2" textLength="10.12" lengthAdjust="spacingAndGlyphs" fill="#222" style="font-family:'Liberation Sans',sans-serif">0</text>
<path d="M69.2 492.0h5.5" stroke="#444" stroke-width="1.4"/>
<text x="52.15" y="498.35" font-size="18.2" textLength="10.12" lengthAdjust="spacingAndGlyphs" fill="#222" style="font-family:'Liberation Sans',sans-serif">1</text>
<path d="M69.2 443.3h5.5" stroke="#444" stroke-width="1.4"/>
<text x="52.19" y="449.70" font-size="18.2" textLength="10.12" lengthAdjust="spacingAndGlyphs" fill="#222" style="font-family:'Liberation Sans',sans-serif">2</text>
<path d="M69.2 394.7h5.5" stroke="#444" stroke-width="1.4"/>
<text x="52.06" y="401.05" font-size="18.2" textLength="10.12" lengthAdjust="spacingAndGlyphs" fill="#222" style="font-family:'Liberation Sans',sans-serif">3</text>
<path d="M69.2 346.0h5.5" stroke="#444" stroke-width="1.4"/>
<text x="51.81" y="352.40" font-size="18.2" textLength="10.12" lengthAdjust="spacingAndGlyphs" fill="#222" style="font-family:'Liberation Sans',sans-serif">4</text>
<path d="M69.2 516.3h3" stroke="#444" stroke-width="1.3"/>
<path d="M69.2 467.6h3" stroke="#444" stroke-width="1.3"/>
<path d="M69.2 419.0h3" stroke="#444" stroke-width="1.3"/>
<path d="M69.2 370.3h3" stroke="#444" stroke-width="1.3"/>
<text x="104.3" y="560.9" font-size="19.8" fill="#222" transform="translate(104.3 0) scale(1.04 1) translate(-104.3 0)">Li<tspan font-size="12.5" dy="3.4">2</tspan><tspan dy="-3.4">S</tspan></text>
<text x="199.3" y="560.9" font-size="19.8" fill="#222" transform="translate(199.3 0) scale(1.04 1) translate(-199.3 0)">Li<tspan font-size="12.5" dy="3.4">2</tspan><tspan dy="-3.4">S</tspan><tspan font-size="12.5" dy="3.4">2</tspan></text>
<text x="301.1" y="560.9" font-size="19.8" fill="#222" transform="translate(301.1 0) scale(1.04 1) translate(-301.1 0)">Li<tspan font-size="12.5" dy="3.4">2</tspan><tspan dy="-3.4">S</tspan><tspan font-size="12.5" dy="3.4">4</tspan></text>
<text x="395.7" y="560.9" font-size="19.8" fill="#222" transform="translate(395.7 0) scale(1.04 1) translate(-395.7 0)">Li<tspan font-size="12.5" dy="3.4">2</tspan><tspan dy="-3.4">S</tspan><tspan font-size="12.5" dy="3.4">6</tspan></text>
<text x="499.9" y="560.9" font-size="19.8" fill="#222" transform="translate(499.9 0) scale(1.04 1) translate(-499.9 0)">Li<tspan font-size="12.5" dy="3.4">2</tspan><tspan dy="-3.4">S</tspan><tspan font-size="12.5" dy="3.4">8</tspan></text>
<text x="607.1" y="560.9" font-size="19.8" fill="#222" transform="translate(607.1 0) scale(1.04 1) translate(-607.1 0)">S<tspan font-size="12.5" dy="3.4">8</tspan></text>
<text x="278.70" y="586.40" font-size="20.6" textLength="168.15" lengthAdjust="spacingAndGlyphs" fill="#222" style="font-family:'Liberation Sans',sans-serif">Reaction Product</text>
<text transform="translate(42.00,569.45) rotate(-90)" x="0" y="0" font-size="23.8" textLength="247.73" lengthAdjust="spacingAndGlyphs" fill="#222" style="font-family:'Liberation Sans',sans-serif">Absorption Energy (eV)</text>
<rect x="540.3" y="341.4" width="32.3" height="15.6" fill="url(#gr)" stroke="#d8a0a6" stroke-width="0.8"/>
<rect x="540.3" y="359.3" width="32.3" height="15.6" fill="url(#gc)" stroke="#5cb8d6" stroke-width="0.8"/>
<text x="576.06" y="354.30" font-size="13.3" textLength="33.72" lengthAdjust="spacingAndGlyphs" fill="#222" style="font-family:'Liberation Sans',sans-serif">M on</text>
<text x="576.08" y="370.60" font-size="13.3" textLength="32.68" lengthAdjust="spacingAndGlyphs" fill="#222" style="font-family:'Liberation Sans',sans-serif">M off</text>
<defs><clipPath id="cd2"><rect x="73" y="619" width="547" height="215"/></clipPath></defs>
<g clip-path="url(#cd2)" fill="none" stroke="#f41c1c" stroke-width="2"><circle cx="73.0" cy="719.9" r="7.8"/><circle cx="75.4" cy="723.9" r="7.8"/><circle cx="77.7" cy="721.9" r="7.8"/><circle cx="80.1" cy="722.0" r="7.8"/><circle cx="82.5" cy="721.7" r="7.8"/><circle cx="84.8" cy="726.8" r="7.8"/><circle cx="87.2" cy="733.0" r="7.8"/><circle cx="89.6" cy="734.4" r="7.8"/><circle cx="91.9" cy="737.5" r="7.8"/><circle cx="94.3" cy="736.3" r="7.8"/><circle cx="96.6" cy="735.6" r="7.8"/><circle cx="99.0" cy="734.5" r="7.8"/><circle cx="101.4" cy="728.9" r="7.8"/><circle cx="103.7" cy="734.4" r="7.8"/><circle cx="106.1" cy="737.2" r="7.8"/><circle cx="108.5" cy="738.1" r="7.8"/><circle cx="110.8" cy="729.6" r="7.8"/><circle cx="113.2" cy="728.8" r="7.8"/><circle cx="115.6" cy="728.9" r="7.8"/><circle cx="117.9" cy="729.1" r="7.8"/><circle cx="120.3" cy="731.3" r="7.8"/><circle cx="122.7" cy="733.8" r="7.8"/><circle cx="125.0" cy="739.4" r="7.8"/><circle cx="127.4" cy="737.8" r="7.8"/><circle cx="129.8" cy="741.8" r="7.8"/><circle cx="132.1" cy="744.4" r="7.8"/><circle cx="134.5" cy="739.4" r="7.8"/><circle cx="136.8" cy="749.2" r="7.8"/><circle cx="139.2" cy="746.4" r="7.8"/><circle cx="141.6" cy="743.6" r="7.8"/><circle cx="143.9" cy="739.2" r="7.8"/><circle cx="146.3" cy="735.2" r="7.8"/><circle cx="148.7" cy="733.8" r="7.8"/><circle cx="151.0" cy="733.8" r="7.8"/><circle cx="153.4" cy="737.3" r="7.8"/><circle cx="155.8" cy="738.4" r="7.8"/><circle cx="158.1" cy="736.5" r="7.8"/><circle cx="160.5" cy="733.5" r="7.8"/><circle cx="162.9" cy="733.8" r="7.8"/><circle cx="165.2" cy="741.0" r="7.8"/><circle cx="167.6" cy="738.0" r="7.8"/><circle cx="169.9" cy="740.3" r="7.8"/><circle cx="172.3" cy="742.4" r="7.8"/><circle cx="174.7" cy="738.8" r="7.8"/><circle cx="177.0" cy="740.9" r="7.8"/><circle cx="179.4" cy="747.5" r="7.8"/><circle cx="181.8" cy="739.4" r="7.8"/><circle cx="184.1" cy="740.1" r="7.8"/><circle cx="186.5" cy="741.8" r="7.8"/><circle cx="188.9" cy="740.1" r="7.8"/><circle cx="191.2" cy="744.3" r="7.8"/><circle cx="193.6" cy="745.1" r="7.8"/><circle cx="196.0" cy="742.8" r="7.8"/><circle cx="198.3" cy="746.5" r="7.8"/><circle cx="200.7" cy="749.3" r="7.8"/><circle cx="203.1" cy="752.2" r="7.8"/><circle cx="205.4" cy="753.6" r="7.8"/><circle cx="207.8" cy="755.2" r="7.8"/><circle cx="210.1" cy="755.8" r="7.8"/><circle cx="212.5" cy="748.4" r="7.8"/><circle cx="214.9" cy="753.2" r="7.8"/><circle cx="217.2" cy="750.5" r="7.8"/><circle cx="219.6" cy="750.3" r="7.8"/><circle cx="222.0" cy="749.5" r="7.8"/><circle cx="224.3" cy="751.4" r="7.8"/><circle cx="226.7" cy="752.9" r="7.8"/><circle cx="229.1" cy="757.0" r="7.8"/><circle cx="231.4" cy="754.8" r="7.8"/><circle cx="233.8" cy="755.4" r="7.8"/><circle cx="236.2" cy="755.4" r="7.8"/><circle cx="238.5" cy="760.4" r="7.8"/><circle cx="240.9" cy="762.0" r="7.8"/><circle cx="243.3" cy="756.1" r="7.8"/><circle cx="245.6" cy="756.5" r="7.8"/><circle cx="248.0" cy="757.1" r="7.8"/><circle cx="250.3" cy="758.6" r="7.8"/><circle cx="252.7" cy="760.0" r="7.8"/><circle cx="255.1" cy="764.7" r="7.8"/><circle cx="257.4" cy="768.9" r="7.8"/><circle cx="259.8" cy="768.6" r="7.8"/><circle cx="262.2" cy="768.8" r="7.8"/><circle cx="264.5" cy="769.4" r="7.8"/><circle cx="266.9" cy="770.9" r="7.8"/><circle cx="269.3" cy="771.6" r="7.8"/><circle cx="271.6" cy="772.3" r="7.8"/><circle cx="274.0" cy="772.4" r="7.8"/><circle cx="276.4" cy="770.0" r="7.8"/><circle cx="278.7" cy="771.9" r="7.8"/><circle cx="281.1" cy="772.1" r="7.8"/><circle cx="283.5" cy="772.0" r="7.8"/><circle cx="285.8" cy="767.1" r="7.8"/><circle cx="288.2" cy="767.3" r="7.8"/><circle cx="290.5" cy="771.2" r="7.8"/><circle cx="292.9" cy="769.6" r="7.8"/><circle cx="295.3" cy="770.6" r="7.8"/><circle cx="297.6" cy="774.9" r="7.8"/><circle cx="300.0" cy="771.8" r="7.8"/><circle cx="302.4" cy="778.3" r="7.8"/><circle cx="304.7" cy="778.7" r="7.8"/><circle cx="307.1" cy="776.8" r="7.8"/><circle cx="309.5" cy="777.2" r="7.8"/><circle cx="311.8" cy="778.5" r="7.8"/><circle cx="314.2" cy="778.0" r="7.8"/><circle cx="316.6" cy="780.4" r="7.8"/><circle cx="318.9" cy="778.8" r="7.8"/><circle cx="321.3" cy="777.9" r="7.8"/><circle cx="323.7" cy="783.5" r="7.8"/><circle cx="326.0" cy="781.8" r="7.8"/><circle cx="328.4" cy="777.3" r="7.8"/><circle cx="330.7" cy="781.4" r="7.8"/><circle cx="333.1" cy="783.5" r="7.8"/><circle cx="335.5" cy="780.3" r="7.8"/><circle cx="337.8" cy="772.9" r="7.8"/><circle cx="340.2" cy="774.1" r="7.8"/><circle cx="342.6" cy="774.9" r="7.8"/><circle cx="344.9" cy="774.7" r="7.8"/><circle cx="347.3" cy="784.9" r="7.8"/><circle cx="349.7" cy="775.1" r="7.8"/><circle cx="352.0" cy="782.9" r="7.8"/><circle cx="354.4" cy="771.3" r="7.8"/><circle cx="356.8" cy="768.5" r="7.8"/><circle cx="359.1" cy="776.2" r="7.8"/><circle cx="361.5" cy="784.3" r="7.8"/><circle cx="363.8" cy="785.8" r="7.8"/><circle cx="366.2" cy="785.2" r="7.8"/><circle cx="368.6" cy="783.9" r="7.8"/><circle cx="370.9" cy="783.4" r="7.8"/><circle cx="373.3" cy="784.3" r="7.8"/><circle cx="375.7" cy="782.7" r="7.8"/><circle cx="378.0" cy="783.4" r="7.8"/><circle cx="380.4" cy="785.0" r="7.8"/><circle cx="382.8" cy="784.4" r="7.8"/><circle cx="385.1" cy="787.3" r="7.8"/><circle cx="387.5" cy="789.4" r="7.8"/><circle cx="389.9" cy="791.7" r="7.8"/><circle cx="392.2" cy="792.2" r="7.8"/><circle cx="394.6" cy="787.6" r="7.8"/><circle cx="397.0" cy="784.0" r="7.8"/><circle cx="399.3" cy="784.2" r="7.8"/><circle cx="401.7" cy="787.3" r="7.8"/><circle cx="404.0" cy="784.6" r="7.8"/><circle cx="406.4" cy="785.1" r="7.8"/><circle cx="408.8" cy="787.2" r="7.8"/><circle cx="411.1" cy="778.7" r="7.8"/><circle cx="413.5" cy="777.6" r="7.8"/><circle cx="415.9" cy="778.0" r="7.8"/><circle cx="418.2" cy="780.6" r="7.8"/><circle cx="420.6" cy="781.8" r="7.8"/><circle cx="423.0" cy="780.3" r="7.8"/><circle cx="425.3" cy="784.9" r="7.8"/><circle cx="427.7" cy="786.0" r="7.8"/><circle cx="430.1" cy="783.0" r="7.8"/><circle cx="432.4" cy="789.0" r="7.8"/><circle cx="434.8" cy="789.0" r="7.8"/><circle cx="437.2" cy="785.5" r="7.8"/><circle cx="439.5" cy="784.6" r="7.8"/><circle cx="441.9" cy="783.4" r="7.8"/><circle cx="444.2" cy="783.5" r="7.8"/><circle cx="446.6" cy="779.4" r="7.8"/><circle cx="449.0" cy="782.0" r="7.8"/><circle cx="451.3" cy="788.2" r="7.8"/><circle cx="453.7" cy="785.7" r="7.8"/><circle cx="456.1" cy="787.8" r="7.8"/><circle cx="458.4" cy="791.8" r="7.8"/><circle cx="460.8" cy="793.4" r="7.8"/><circle cx="463.2" cy="793.7" r="7.8"/><circle cx="465.5" cy="789.9" r="7.8"/><circle cx="467.9" cy="789.5" r="7.8"/><circle cx="470.3" cy="789.2" r="7.8"/><circle cx="472.6" cy="791.2" r="7.8"/><circle cx="475.0" cy="794.2" r="7.8"/><circle cx="477.4" cy="788.5" r="7.8"/><circle cx="479.7" cy="792.3" r="7.8"/><circle cx="482.1" cy="789.5" r="7.8"/><circle cx="484.4" cy="792.2" r="7.8"/><circle cx="486.8" cy="789.0" r="7.8"/><circle cx="489.2" cy="790.0" r="7.8"/><circle cx="491.5" cy="793.1" r="7.8"/><circle cx="493.9" cy="790.8" r="7.8"/><circle cx="496.3" cy="790.3" r="7.8"/><circle cx="498.6" cy="792.1" r="7.8"/><circle cx="501.0" cy="791.9" r="7.8"/><circle cx="503.4" cy="791.4" r="7.8"/><circle cx="505.7" cy="794.1" r="7.8"/><circle cx="508.1" cy="794.8" r="7.8"/><circle cx="510.5" cy="794.0" r="7.8"/><circle cx="512.8" cy="796.0" r="7.8"/><circle cx="515.2" cy="794.7" r="7.8"/><circle cx="517.6" cy="797.0" r="7.8"/><circle cx="519.9" cy="794.6" r="7.8"/><circle cx="522.3" cy="794.6" r="7.8"/><circle cx="524.6" cy="796.5" r="7.8"/><circle cx="527.0" cy="796.2" r="7.8"/><circle cx="529.4" cy="796.8" r="7.8"/><circle cx="531.7" cy="791.1" r="7.8"/><circle cx="534.1" cy="789.6" r="7.8"/><circle cx="536.5" cy="791.1" r="7.8"/><circle cx="538.8" cy="788.8" r="7.8"/><circle cx="541.2" cy="788.2" r="7.8"/><circle cx="543.6" cy="787.4" r="7.8"/><circle cx="545.9" cy="789.6" r="7.8"/><circle cx="548.3" cy="791.3" r="7.8"/><circle cx="550.7" cy="793.2" r="7.8"/><circle cx="553.0" cy="789.2" r="7.8"/><circle cx="555.4" cy="788.6" r="7.8"/><circle cx="557.7" cy="784.8" r="7.8"/><circle cx="560.1" cy="789.7" r="7.8"/><circle cx="562.5" cy="795.0" r="7.8"/><circle cx="564.8" cy="791.5" r="7.8"/><circle cx="567.2" cy="796.9" r="7.8"/><circle cx="569.6" cy="797.9" r="7.8"/><circle cx="571.9" cy="797.9" r="7.8"/><circle cx="574.3" cy="792.5" r="7.8"/><circle cx="576.7" cy="797.6" r="7.8"/><circle cx="579.0" cy="796.9" r="7.8"/><circle cx="581.4" cy="795.3" r="7.8"/><circle cx="583.8" cy="796.8" r="7.8"/><circle cx="586.1" cy="797.7" r="7.8"/><circle cx="588.5" cy="800.0" r="7.8"/><circle cx="590.9" cy="798.5" r="7.8"/><circle cx="593.2" cy="801.1" r="7.8"/><circle cx="595.6" cy="801.8" r="7.8"/><circle cx="597.9" cy="802.3" r="7.8"/><circle cx="600.3" cy="802.8" r="7.8"/><circle cx="602.7" cy="798.6" r="7.8"/><circle cx="605.0" cy="801.6" r="7.8"/><circle cx="607.4" cy="800.3" r="7.8"/><circle cx="609.8" cy="799.2" r="7.8"/><circle cx="612.1" cy="800.7" r="7.8"/><circle cx="614.5" cy="798.7" r="7.8"/><circle cx="73.1" cy="713.3" r="7.8"/><circle cx="75.5" cy="729.5" r="7.8"/><circle cx="84.2" cy="725.0" r="7.8"/><circle cx="86.8" cy="735.3" r="7.8"/><circle cx="101.2" cy="727.9" r="7.8"/><circle cx="97.5" cy="736.0" r="7.8"/><circle cx="112.3" cy="728.7" r="7.8"/><circle cx="112.6" cy="739.0" r="7.8"/><circle cx="126.8" cy="733.7" r="7.8"/><circle cx="128.9" cy="749.9" r="7.8"/><circle cx="141.6" cy="733.0" r="7.8"/><circle cx="142.5" cy="741.9" r="7.8"/><circle cx="155.4" cy="731.5" r="7.8"/><circle cx="160.1" cy="742.6" r="7.8"/><circle cx="173.7" cy="738.6" r="7.8"/><circle cx="174.3" cy="745.3" r="7.8"/><circle cx="189.7" cy="740.1" r="7.8"/><circle cx="191.6" cy="749.7" r="7.8"/><circle cx="203.3" cy="744.5" r="7.8"/><circle cx="206.3" cy="752.6" r="7.8"/><circle cx="218.4" cy="746.7" r="7.8"/><circle cx="218.6" cy="759.3" r="7.8"/><circle cx="233.1" cy="755.4" r="7.8"/><circle cx="230.1" cy="759.9" r="7.8"/><circle cx="247.2" cy="756.9" r="7.8"/><circle cx="245.7" cy="765.8" r="7.8"/><circle cx="261.6" cy="765.7" r="7.8"/><circle cx="266.4" cy="770.2" r="7.8"/><circle cx="277.2" cy="770.1" r="7.8"/><circle cx="279.0" cy="772.3" r="7.8"/><circle cx="295.2" cy="770.1" r="7.8"/><circle cx="294.1" cy="775.3" r="7.8"/><circle cx="307.4" cy="771.5" r="7.8"/><circle cx="308.5" cy="779.0" r="7.8"/><circle cx="323.3" cy="773.7" r="7.8"/><circle cx="324.7" cy="785.5" r="7.8"/><circle cx="335.2" cy="771.5" r="7.8"/><circle cx="338.0" cy="782.6" r="7.8"/><circle cx="353.1" cy="766.9" r="7.8"/><circle cx="353.3" cy="783.9" r="7.8"/><circle cx="370.8" cy="777.2" r="7.8"/><circle cx="369.2" cy="785.3" r="7.8"/><circle cx="384.2" cy="777.9" r="7.8"/><circle cx="385.4" cy="787.5" r="7.8"/><circle cx="400.9" cy="778.6" r="7.8"/><circle cx="398.1" cy="789.7" r="7.8"/><circle cx="413.7" cy="777.9" r="7.8"/><circle cx="413.0" cy="786.8" r="7.8"/><circle cx="427.7" cy="778.6" r="7.8"/><circle cx="428.8" cy="789.0" r="7.8"/><circle cx="444.3" cy="777.2" r="7.8"/><circle cx="444.8" cy="791.2" r="7.8"/><circle cx="459.1" cy="787.4" r="7.8"/><circle cx="461.8" cy="794.1" r="7.8"/><circle cx="475.0" cy="787.4" r="7.8"/><circle cx="476.1" cy="794.1" r="7.8"/><circle cx="491.1" cy="788.8" r="7.8"/><circle cx="487.0" cy="796.3" r="7.8"/><circle cx="503.4" cy="788.1" r="7.8"/><circle cx="505.7" cy="793.3" r="7.8"/><circle cx="519.6" cy="787.4" r="7.8"/><circle cx="515.4" cy="797.0" r="7.8"/><circle cx="532.3" cy="789.6" r="7.8"/><circle cx="534.3" cy="796.3" r="7.8"/><circle cx="546.6" cy="785.2" r="7.8"/><circle cx="547.6" cy="793.3" r="7.8"/><circle cx="561.2" cy="785.2" r="7.8"/><circle cx="564.8" cy="795.5" r="7.8"/><circle cx="580.1" cy="792.5" r="7.8"/><circle cx="580.8" cy="799.9" r="7.8"/><circle cx="590.9" cy="796.9" r="7.8"/><circle cx="594.3" cy="801.3" r="7.8"/><circle cx="608.6" cy="793.2" r="7.8"/><circle cx="605.5" cy="802.1" r="7.8"/><circle cx="615.0" cy="793.2" r="7.8"/><circle cx="615.0" cy="799.9" r="7.8"/><circle cx="73.0" cy="712.0" r="7.8"/><circle cx="74.0" cy="716.0" r="7.8"/><circle cx="75.5" cy="720.0" r="7.8"/><circle cx="77.0" cy="724.0" r="7.8"/><circle cx="79.0" cy="714.0" r="7.8"/><circle cx="279.2" cy="787.7" r="7.8"/></g>
<defs><clipPath id="cd"><rect x="73" y="619" width="547" height="215"/></clipPath></defs>
<g clip-path="url(#cd)"><g fill="none" stroke="#76c8f2" stroke-width="1.5"><rect x="66.8" y="636.4" width="11.2" height="11.2"/><rect x="69.0" y="631.8" width="11.2" height="11.2"/><rect x="72.0" y="635.2" width="11.2" height="11.2"/><rect x="72.1" y="631.2" width="11.2" height="11.2"/><rect x="74.6" y="630.3" width="11.2" height="11.2"/><rect x="75.8" y="630.1" width="11.2" height="11.2"/><rect x="78.7" y="627.1" width="11.2" height="11.2"/><rect x="80.1" y="631.3" width="11.2" height="11.2"/><rect x="80.9" y="630.2" width="11.2" height="11.2"/><rect x="83.9" y="632.0" width="11.2" height="11.2"/><rect x="84.6" y="636.8" width="11.2" height="11.2"/><rect x="87.8" y="636.6" width="11.2" height="11.2"/><rect x="88.3" y="629.6" width="11.2" height="11.2"/><rect x="89.9" y="634.7" width="11.2" height="11.2"/><rect x="92.2" y="628.2" width="11.2" height="11.2"/><rect x="94.3" y="636.0" width="11.2" height="11.2"/><rect x="96.9" y="629.5" width="11.2" height="11.2"/><rect x="97.4" y="636.1" width="11.2" height="11.2"/><rect x="100.0" y="633.9" width="11.2" height="11.2"/><rect x="100.9" y="627.5" width="11.2" height="11.2"/><rect x="103.9" y="631.2" width="11.2" height="11.2"/><rect x="104.4" y="636.3" width="11.2" height="11.2"/><rect x="107.4" y="634.9" width="11.2" height="11.2"/><rect x="108.1" y="635.5" width="11.2" height="11.2"/><rect x="109.8" y="635.5" width="11.2" height="11.2"/><rect x="112.4" y="630.3" width="11.2" height="11.2"/><rect x="114.4" y="636.2" width="11.2" height="11.2"/><rect x="115.6" y="628.2" width="11.2" height="11.2"/><rect x="118.0" y="629.3" width="11.2" height="11.2"/><rect x="118.9" y="628.5" width="11.2" height="11.2"/><rect x="120.6" y="628.9" width="11.2" height="11.2"/><rect x="122.9" y="630.0" width="11.2" height="11.2"/><rect x="125.6" y="629.8" width="11.2" height="11.2"/><rect x="126.9" y="628.7" width="11.2" height="11.2"/><rect x="128.4" y="627.1" width="11.2" height="11.2"/><rect x="130.0" y="627.1" width="11.2" height="11.2"/><rect x="132.8" y="632.4" width="11.2" height="11.2"/><rect x="133.5" y="631.6" width="11.2" height="11.2"/><rect x="136.8" y="628.0" width="11.2" height="11.2"/><rect x="138.4" y="631.2" width="11.2" height="11.2"/><rect x="139.6" y="635.2" width="11.2" height="11.2"/><rect x="141.2" y="632.0" width="11.2" height="11.2"/><rect x="143.5" y="636.7" width="11.2" height="11.2"/><rect x="144.7" y="635.2" width="11.2" height="11.2"/><rect x="147.2" y="633.3" width="11.2" height="11.2"/><rect x="148.4" y="630.4" width="11.2" height="11.2"/><rect x="149.5" y="628.2" width="11.2" height="11.2"/><rect x="151.3" y="634.3" width="11.2" height="11.2"/><rect x="153.5" y="628.5" width="11.2" height="11.2"/><rect x="155.0" y="635.3" width="11.2" height="11.2"/><rect x="158.3" y="633.6" width="11.2" height="11.2"/><rect x="159.0" y="629.3" width="11.2" height="11.2"/><rect x="160.8" y="631.5" width="11.2" height="11.2"/><rect x="162.3" y="631.4" width="11.2" height="11.2"/><rect x="164.3" y="636.5" width="11.2" height="11.2"/><rect x="167.6" y="632.4" width="11.2" height="11.2"/><rect x="167.9" y="636.6" width="11.2" height="11.2"/><rect x="169.8" y="630.5" width="11.2" height="11.2"/><rect x="171.0" y="630.7" width="11.2" height="11.2"/><rect x="173.8" y="631.9" width="11.2" height="11.2"/><rect x="175.0" y="631.9" width="11.2" height="11.2"/><rect x="176.5" y="629.5" width="11.2" height="11.2"/><rect x="178.4" y="630.9" width="11.2" height="11.2"/><rect x="180.1" y="627.1" width="11.2" height="11.2"/><rect x="182.5" y="629.2" width="11.2" height="11.2"/><rect x="184.8" y="632.2" width="11.2" height="11.2"/><rect x="187.0" y="633.5" width="11.2" height="11.2"/><rect x="188.7" y="635.7" width="11.2" height="11.2"/><rect x="189.9" y="630.2" width="11.2" height="11.2"/><rect x="192.8" y="628.4" width="11.2" height="11.2"/><rect x="194.1" y="633.3" width="11.2" height="11.2"/><rect x="194.6" y="635.3" width="11.2" height="11.2"/><rect x="198.1" y="633.2" width="11.2" height="11.2"/><rect x="199.6" y="635.0" width="11.2" height="11.2"/><rect x="200.2" y="632.1" width="11.2" height="11.2"/><rect x="202.7" y="635.2" width="11.2" height="11.2"/><rect x="205.1" y="635.2" width="11.2" height="11.2"/><rect x="206.5" y="635.8" width="11.2" height="11.2"/><rect x="208.5" y="633.8" width="11.2" height="11.2"/><rect x="209.4" y="627.2" width="11.2" height="11.2"/><rect x="211.0" y="630.5" width="11.2" height="11.2"/><rect x="212.7" y="635.3" width="11.2" height="11.2"/><rect x="215.4" y="633.2" width="11.2" height="11.2"/><rect x="217.4" y="633.7" width="11.2" height="11.2"/><rect x="218.9" y="626.9" width="11.2" height="11.2"/><rect x="221.3" y="634.4" width="11.2" height="11.2"/><rect x="222.6" y="632.3" width="11.2" height="11.2"/><rect x="224.7" y="627.6" width="11.2" height="11.2"/><rect x="226.6" y="629.4" width="11.2" height="11.2"/><rect x="227.1" y="629.6" width="11.2" height="11.2"/><rect x="230.2" y="629.0" width="11.2" height="11.2"/><rect x="232.0" y="636.7" width="11.2" height="11.2"/><rect x="233.4" y="630.7" width="11.2" height="11.2"/><rect x="235.1" y="633.7" width="11.2" height="11.2"/><rect x="237.5" y="633.1" width="11.2" height="11.2"/><rect x="239.1" y="627.7" width="11.2" height="11.2"/><rect x="239.9" y="629.4" width="11.2" height="11.2"/><rect x="242.9" y="629.9" width="11.2" height="11.2"/><rect x="244.3" y="627.0" width="11.2" height="11.2"/><rect x="245.1" y="629.6" width="11.2" height="11.2"/><rect x="248.1" y="633.8" width="11.2" height="11.2"/><rect x="250.0" y="629.8" width="11.2" height="11.2"/><rect x="251.4" y="631.5" width="11.2" height="11.2"/><rect x="253.1" y="628.1" width="11.2" height="11.2"/><rect x="255.8" y="628.9" width="11.2" height="11.2"/><rect x="257.8" y="636.3" width="11.2" height="11.2"/><rect x="257.7" y="631.5" width="11.2" height="11.2"/><rect x="261.1" y="636.6" width="11.2" height="11.2"/><rect x="262.1" y="629.6" width="11.2" height="11.2"/><rect x="263.5" y="636.4" width="11.2" height="11.2"/><rect x="265.3" y="632.7" width="11.2" height="11.2"/><rect x="266.9" y="632.1" width="11.2" height="11.2"/><rect x="270.4" y="628.2" width="11.2" height="11.2"/><rect x="271.9" y="632.0" width="11.2" height="11.2"/><rect x="273.8" y="633.9" width="11.2" height="11.2"/><rect x="274.3" y="635.9" width="11.2" height="11.2"/><rect x="276.6" y="627.1" width="11.2" height="11.2"/><rect x="277.5" y="631.8" width="11.2" height="11.2"/><rect x="280.2" y="629.9" width="11.2" height="11.2"/><rect x="281.4" y="630.3" width="11.2" height="11.2"/><rect x="283.5" y="635.3" width="11.2" height="11.2"/><rect x="284.7" y="634.4" width="11.2" height="11.2"/><rect x="288.2" y="628.1" width="11.2" height="11.2"/><rect x="290.1" y="634.0" width="11.2" height="11.2"/><rect x="291.9" y="629.8" width="11.2" height="11.2"/><rect x="292.6" y="630.8" width="11.2" height="11.2"/><rect x="295.7" y="632.8" width="11.2" height="11.2"/><rect x="296.2" y="631.2" width="11.2" height="11.2"/><rect x="297.9" y="627.4" width="11.2" height="11.2"/><rect x="299.3" y="635.2" width="11.2" height="11.2"/><rect x="301.5" y="636.3" width="11.2" height="11.2"/><rect x="303.2" y="629.6" width="11.2" height="11.2"/><rect x="305.6" y="628.8" width="11.2" height="11.2"/><rect x="307.1" y="636.5" width="11.2" height="11.2"/><rect x="309.9" y="635.0" width="11.2" height="11.2"/><rect x="311.2" y="636.0" width="11.2" height="11.2"/><rect x="313.6" y="632.4" width="11.2" height="11.2"/><rect x="315.0" y="627.4" width="11.2" height="11.2"/><rect x="316.8" y="631.4" width="11.2" height="11.2"/><rect x="318.7" y="633.3" width="11.2" height="11.2"/><rect x="319.5" y="627.4" width="11.2" height="11.2"/><rect x="322.6" y="628.2" width="11.2" height="11.2"/><rect x="323.5" y="630.3" width="11.2" height="11.2"/><rect x="325.0" y="634.3" width="11.2" height="11.2"/><rect x="328.1" y="629.5" width="11.2" height="11.2"/><rect x="329.3" y="629.9" width="11.2" height="11.2"/><rect x="330.9" y="630.8" width="11.2" height="11.2"/><rect x="331.9" y="628.5" width="11.2" height="11.2"/><rect x="333.8" y="636.0" width="11.2" height="11.2"/><rect x="336.2" y="629.1" width="11.2" height="11.2"/><rect x="338.8" y="636.9" width="11.2" height="11.2"/><rect x="339.7" y="628.3" width="11.2" height="11.2"/><rect x="341.0" y="627.8" width="11.2" height="11.2"/><rect x="343.1" y="627.8" width="11.2" height="11.2"/><rect x="344.7" y="629.5" width="11.2" height="11.2"/><rect x="347.2" y="635.8" width="11.2" height="11.2"/><rect x="349.3" y="631.0" width="11.2" height="11.2"/><rect x="350.5" y="632.1" width="11.2" height="11.2"/><rect x="352.2" y="630.3" width="11.2" height="11.2"/><rect x="353.4" y="629.7" width="11.2" height="11.2"/><rect x="357.0" y="628.2" width="11.2" height="11.2"/><rect x="357.9" y="633.2" width="11.2" height="11.2"/><rect x="360.4" y="629.1" width="11.2" height="11.2"/><rect x="361.0" y="629.4" width="11.2" height="11.2"/><rect x="363.1" y="631.4" width="11.2" height="11.2"/><rect x="366.0" y="635.4" width="11.2" height="11.2"/><rect x="367.6" y="627.1" width="11.2" height="11.2"/><rect x="367.7" y="634.0" width="11.2" height="11.2"/><rect x="371.3" y="631.6" width="11.2" height="11.2"/><rect x="372.5" y="626.9" width="11.2" height="11.2"/><rect x="373.9" y="636.2" width="11.2" height="11.2"/><rect x="376.5" y="635.5" width="11.2" height="11.2"/><rect x="378.6" y="629.4" width="11.2" height="11.2"/><rect x="378.7" y="628.4" width="11.2" height="11.2"/><rect x="381.3" y="633.7" width="11.2" height="11.2"/><rect x="384.0" y="634.1" width="11.2" height="11.2"/><rect x="385.2" y="634.5" width="11.2" height="11.2"/><rect x="386.6" y="632.4" width="11.2" height="11.2"/><rect x="387.6" y="634.7" width="11.2" height="11.2"/><rect x="389.8" y="636.1" width="11.2" height="11.2"/><rect x="392.4" y="629.9" width="11.2" height="11.2"/><rect x="393.2" y="629.4" width="11.2" height="11.2"/><rect x="396.0" y="633.9" width="11.2" height="11.2"/><rect x="396.8" y="627.6" width="11.2" height="11.2"/><rect x="399.4" y="632.7" width="11.2" height="11.2"/><rect x="400.9" y="629.1" width="11.2" height="11.2"/><rect x="403.1" y="627.0" width="11.2" height="11.2"/><rect x="404.4" y="631.5" width="11.2" height="11.2"/><rect x="407.5" y="633.3" width="11.2" height="11.2"/><rect x="409.1" y="631.7" width="11.2" height="11.2"/><rect x="409.6" y="629.4" width="11.2" height="11.2"/><rect x="412.9" y="633.9" width="11.2" height="11.2"/><rect x="413.4" y="627.1" width="11.2" height="11.2"/><rect x="415.6" y="633.6" width="11.2" height="11.2"/><rect x="417.2" y="629.5" width="11.2" height="11.2"/><rect x="419.5" y="636.2" width="11.2" height="11.2"/><rect x="420.4" y="627.2" width="11.2" height="11.2"/><rect x="422.5" y="631.1" width="11.2" height="11.2"/><rect x="425.0" y="628.9" width="11.2" height="11.2"/><rect x="427.0" y="634.3" width="11.2" height="11.2"/><rect x="428.2" y="629.0" width="11.2" height="11.2"/><rect x="430.9" y="630.0" width="11.2" height="11.2"/><rect x="432.5" y="629.2" width="11.2" height="11.2"/><rect x="433.1" y="634.5" width="11.2" height="11.2"/><rect x="435.0" y="636.4" width="11.2" height="11.2"/><rect x="437.2" y="628.8" width="11.2" height="11.2"/><rect x="438.5" y="631.1" width="11.2" height="11.2"/><rect x="441.2" y="636.4" width="11.2" height="11.2"/><rect x="441.9" y="630.8" width="11.2" height="11.2"/><rect x="443.9" y="636.6" width="11.2" height="11.2"/><rect x="445.5" y="627.4" width="11.2" height="11.2"/><rect x="447.2" y="630.8" width="11.2" height="11.2"/><rect x="450.6" y="635.7" width="11.2" height="11.2"/><rect x="452.1" y="636.9" width="11.2" height="11.2"/><rect x="454.3" y="630.2" width="11.2" height="11.2"/><rect x="454.6" y="636.3" width="11.2" height="11.2"/><rect x="457.6" y="627.2" width="11.2" height="11.2"/><rect x="459.2" y="630.7" width="11.2" height="11.2"/><rect x="460.4" y="630.2" width="11.2" height="11.2"/><rect x="461.8" y="626.9" width="11.2" height="11.2"/><rect x="463.8" y="630.4" width="11.2" height="11.2"/><rect x="467.0" y="628.1" width="11.2" height="11.2"/><rect x="468.8" y="629.0" width="11.2" height="11.2"/><rect x="469.4" y="635.1" width="11.2" height="11.2"/><rect x="472.1" y="631.2" width="11.2" height="11.2"/><rect x="472.4" y="631.6" width="11.2" height="11.2"/><rect x="474.9" y="636.1" width="11.2" height="11.2"/><rect x="476.3" y="630.5" width="11.2" height="11.2"/><rect x="479.5" y="627.2" width="11.2" height="11.2"/><rect x="480.3" y="635.0" width="11.2" height="11.2"/><rect x="482.9" y="627.3" width="11.2" height="11.2"/><rect x="483.2" y="627.5" width="11.2" height="11.2"/><rect x="486.8" y="629.5" width="11.2" height="11.2"/><rect x="488.2" y="635.9" width="11.2" height="11.2"/><rect x="489.2" y="629.6" width="11.2" height="11.2"/><rect x="492.3" y="633.1" width="11.2" height="11.2"/><rect x="492.7" y="634.1" width="11.2" height="11.2"/><rect x="494.6" y="629.7" width="11.2" height="11.2"/><rect x="495.8" y="634.5" width="11.2" height="11.2"/><rect x="499.4" y="633.2" width="11.2" height="11.2"/><rect x="501.2" y="627.1" width="11.2" height="11.2"/><rect x="501.6" y="631.7" width="11.2" height="11.2"/><rect x="504.9" y="636.4" width="11.2" height="11.2"/><rect x="505.5" y="629.4" width="11.2" height="11.2"/><rect x="507.4" y="631.8" width="11.2" height="11.2"/><rect x="510.2" y="628.7" width="11.2" height="11.2"/><rect x="511.8" y="634.3" width="11.2" height="11.2"/><rect x="513.6" y="634.6" width="11.2" height="11.2"/><rect x="515.0" y="630.2" width="11.2" height="11.2"/><rect x="516.2" y="630.5" width="11.2" height="11.2"/><rect x="519.0" y="627.7" width="11.2" height="11.2"/><rect x="519.6" y="634.4" width="11.2" height="11.2"/><rect x="521.5" y="627.5" width="11.2" height="11.2"/><rect x="522.9" y="632.4" width="11.2" height="11.2"/><rect x="525.3" y="636.7" width="11.2" height="11.2"/><rect x="528.2" y="636.8" width="11.2" height="11.2"/><rect x="528.8" y="627.7" width="11.2" height="11.2"/><rect x="530.2" y="631.9" width="11.2" height="11.2"/><rect x="533.3" y="631.4" width="11.2" height="11.2"/><rect x="534.1" y="631.1" width="11.2" height="11.2"/><rect x="536.7" y="633.6" width="11.2" height="11.2"/><rect x="538.7" y="635.4" width="11.2" height="11.2"/><rect x="540.4" y="628.1" width="11.2" height="11.2"/><rect x="542.5" y="629.8" width="11.2" height="11.2"/><rect x="543.8" y="630.6" width="11.2" height="11.2"/><rect x="545.9" y="628.9" width="11.2" height="11.2"/><rect x="546.8" y="629.4" width="11.2" height="11.2"/><rect x="548.4" y="635.7" width="11.2" height="11.2"/><rect x="551.0" y="630.2" width="11.2" height="11.2"/><rect x="552.5" y="636.8" width="11.2" height="11.2"/><rect x="554.5" y="629.2" width="11.2" height="11.2"/><rect x="556.9" y="633.4" width="11.2" height="11.2"/><rect x="559.1" y="627.9" width="11.2" height="11.2"/><rect x="559.8" y="635.1" width="11.2" height="11.2"/><rect x="562.4" y="636.0" width="11.2" height="11.2"/><rect x="562.6" y="629.8" width="11.2" height="11.2"/><rect x="564.5" y="628.8" width="11.2" height="11.2"/><rect x="568.1" y="632.7" width="11.2" height="11.2"/><rect x="569.8" y="630.6" width="11.2" height="11.2"/><rect x="571.5" y="631.4" width="11.2" height="11.2"/><rect x="572.0" y="634.7" width="11.2" height="11.2"/><rect x="575.2" y="628.0" width="11.2" height="11.2"/><rect x="576.3" y="633.1" width="11.2" height="11.2"/><rect x="577.4" y="630.6" width="11.2" height="11.2"/><rect x="579.0" y="628.9" width="11.2" height="11.2"/><rect x="581.1" y="632.9" width="11.2" height="11.2"/><rect x="583.7" y="628.9" width="11.2" height="11.2"/><rect x="584.2" y="630.2" width="11.2" height="11.2"/><rect x="587.3" y="628.8" width="11.2" height="11.2"/><rect x="588.4" y="628.9" width="11.2" height="11.2"/><rect x="591.2" y="632.4" width="11.2" height="11.2"/><rect x="591.5" y="627.9" width="11.2" height="11.2"/><rect x="594.0" y="632.4" width="11.2" height="11.2"/><rect x="596.3" y="627.8" width="11.2" height="11.2"/><rect x="597.1" y="633.9" width="11.2" height="11.2"/><rect x="599.4" y="629.7" width="11.2" height="11.2"/><rect x="601.0" y="636.4" width="11.2" height="11.2"/><rect x="602.8" y="632.6" width="11.2" height="11.2"/><rect x="604.7" y="631.1" width="11.2" height="11.2"/><rect x="607.5" y="636.9" width="11.2" height="11.2"/></g>
<rect x="73" y="629.5" width="541" height="17.5" fill="#74c8f6"/></g>
<rect x="146.4" y="619.2" width="11.2" height="11.2" fill="none" stroke="#76c8f2" stroke-width="1.5"/>
<rect x="273.6" y="654.6" width="11.2" height="11.2" fill="none" stroke="#76c8f2" stroke-width="1.5"/>
<rect x="270.4" y="621.4" width="11.2" height="11.2" fill="none" stroke="#76c8f2" stroke-width="1.5"/>
<rect x="350.4" y="618.9" width="11.2" height="11.2" fill="none" stroke="#76c8f2" stroke-width="1.5"/>
<rect x="596.4" y="621.4" width="11.2" height="11.2" fill="none" stroke="#76c8f2" stroke-width="1.5"/>
<rect x="608" y="632" width="11" height="11" fill="#fff" stroke="#76c8f2" stroke-width="1.5"/>
<path d="M72.3 618.3V834.5H620.6" fill="none" stroke="#444" stroke-width="1.5"/>
<path d="M72.3 618.3H620.6" fill="none" stroke="#333" stroke-width="1.5"/>
<path d="M620.6 618.3V834.5" fill="none" stroke="#74c4e2" stroke-width="1.4"/>
<path d="M72.3 834.5h4" stroke="#444" stroke-width="1.3"/>
<text x="58.81" y="839.50" font-size="14.2" textLength="8.69" lengthAdjust="spacingAndGlyphs" fill="#222" style="font-family:'Liberation Sans',sans-serif">0</text>
<path d="M72.3 785.0h4" stroke="#444" stroke-width="1.3"/>
<text x="41.44" y="789.95" font-size="14.2" textLength="26.06" lengthAdjust="spacingAndGlyphs" fill="#222" style="font-family:'Liberation Sans',sans-serif">400</text>
<path d="M72.3 735.4h4" stroke="#444" stroke-width="1.3"/>
<text x="41.44" y="740.40" font-size="14.2" textLength="26.06" lengthAdjust="spacingAndGlyphs" fill="#222" style="font-family:'Liberation Sans',sans-serif">800</text>
<path d="M72.3 685.9h4" stroke="#444" stroke-width="1.3"/>
<text x="32.75" y="690.85" font-size="14.2" textLength="34.75" lengthAdjust="spacingAndGlyphs" fill="#222" style="font-family:'Liberation Sans',sans-serif">1200</text>
<path d="M72.3 636.3h4" stroke="#444" stroke-width="1.3"/>
<text x="32.75" y="641.30" font-size="14.2" textLength="34.75" lengthAdjust="spacingAndGlyphs" fill="#222" style="font-family:'Liberation Sans',sans-serif">1600</text>
<path d="M72.3 809.7h2.5" stroke="#444" stroke-width="1.2"/>
<path d="M72.3 760.2h2.5" stroke="#444" stroke-width="1.2"/>
<path d="M72.3 710.6h2.5" stroke="#444" stroke-width="1.2"/>
<path d="M72.3 661.1h2.5" stroke="#444" stroke-width="1.2"/>
<path d="M72.3 834.5v-4.5" stroke="#444" stroke-width="1.3"/>
<text x="68.26" y="851.60" font-size="14.5" textLength="8.06" lengthAdjust="spacingAndGlyphs" fill="#222" style="font-family:'Liberation Sans',sans-serif">0</text>
<path d="M140.0 834.5v-4.5" stroke="#444" stroke-width="1.3"/>
<text x="123.62" y="851.60" font-size="14.5" textLength="32.26" lengthAdjust="spacingAndGlyphs" fill="#222" style="font-family:'Liberation Sans',sans-serif">1000</text>
<path d="M207.7 834.5v-4.5" stroke="#444" stroke-width="1.3"/>
<text x="191.53" y="851.60" font-size="14.5" textLength="32.26" lengthAdjust="spacingAndGlyphs" fill="#222" style="font-family:'Liberation Sans',sans-serif">2000</text>
<path d="M275.5 834.5v-4.5" stroke="#444" stroke-width="1.3"/>
<text x="259.34" y="851.60" font-size="14.5" textLength="32.26" lengthAdjust="spacingAndGlyphs" fill="#222" style="font-family:'Liberation Sans',sans-serif">3000</text>
<path d="M343.2 834.5v-4.5" stroke="#444" stroke-width="1.3"/>
<text x="327.17" y="851.60" font-size="14.5" textLength="32.26" lengthAdjust="spacingAndGlyphs" fill="#222" style="font-family:'Liberation Sans',sans-serif">4000</text>
<path d="M410.9 834.5v-4.5" stroke="#444" stroke-width="1.3"/>
<text x="394.76" y="851.60" font-size="14.5" textLength="32.26" lengthAdjust="spacingAndGlyphs" fill="#222" style="font-family:'Liberation Sans',sans-serif">5000</text>
<path d="M478.6 834.5v-4.5" stroke="#444" stroke-width="1.3"/>
<text x="462.41" y="851.60" font-size="14.5" textLength="32.26" lengthAdjust="spacingAndGlyphs" fill="#222" style="font-family:'Liberation Sans',sans-serif">6000</text>
<path d="M546.3 834.5v-4.5" stroke="#444" stroke-width="1.3"/>
<text x="530.12" y="851.60" font-size="14.5" textLength="32.26" lengthAdjust="spacingAndGlyphs" fill="#222" style="font-family:'Liberation Sans',sans-serif">7000</text>
<path d="M614.1 834.5v-4.5" stroke="#444" stroke-width="1.3"/>
<text x="597.90" y="851.60" font-size="14.5" textLength="32.26" lengthAdjust="spacingAndGlyphs" fill="#222" style="font-family:'Liberation Sans',sans-serif">8000</text>
<path d="M106.2 834.5v-2.5" stroke="#444" stroke-width="1.2"/>
<path d="M173.9 834.5v-2.5" stroke="#444" stroke-width="1.2"/>
<path d="M241.6 834.5v-2.5" stroke="#444" stroke-width="1.2"/>
<path d="M309.3 834.5v-2.5" stroke="#444" stroke-width="1.2"/>
<path d="M377.0 834.5v-2.5" stroke="#444" stroke-width="1.2"/>
<path d="M444.8 834.5v-2.5" stroke="#444" stroke-width="1.2"/>
<path d="M512.5 834.5v-2.5" stroke="#444" stroke-width="1.2"/>
<path d="M580.2 834.5v-2.5" stroke="#444" stroke-width="1.2"/>
<path d="M620.6 834.5h4" stroke="#74c4e2" stroke-width="1.3"/>
<text x="627.69" y="839.90" font-size="15" textLength="8.76" lengthAdjust="spacingAndGlyphs" fill="#74c4e2" style="font-family:'Liberation Sans',sans-serif">0</text>
<path d="M620.6 736.2h4" stroke="#74c4e2" stroke-width="1.3"/>
<text x="628.67" y="741.60" font-size="15" textLength="17.52" lengthAdjust="spacingAndGlyphs" fill="#74c4e2" style="font-family:'Liberation Sans',sans-serif">50</text>
<path d="M620.6 637.9h4" stroke="#74c4e2" stroke-width="1.3"/>
<text x="628.10" y="643.30" font-size="15" textLength="26.28" lengthAdjust="spacingAndGlyphs" fill="#74c4e2" style="font-family:'Liberation Sans',sans-serif">100</text>
<path d="M620.6 785.4h2.5" stroke="#74c4e2" stroke-width="1.2"/>
<path d="M620.6 687.0h2.5" stroke="#74c4e2" stroke-width="1.2"/>
<text x="276.17" y="870.40" font-size="19.3" textLength="130.66" lengthAdjust="spacingAndGlyphs" fill="#222" style="font-family:'Liberation Sans',sans-serif">Cycle Number</text>
<text transform="translate(29.30,860.41) rotate(-90)" x="0" y="0" font-size="20.2" textLength="224.89" lengthAdjust="spacingAndGlyphs" fill="#222" style="font-family:'Liberation Sans',sans-serif">Specific Capacity (mAh g</text>
<text transform="translate(19.2,635.2) rotate(-90)" font-size="11.5" fill="#222">-1</text>
<text transform="translate(29.3,624.4) rotate(-90)" font-size="20.2" fill="#222">)</text>
<text transform="translate(679.40,848.01) rotate(-90)" x="0" y="0" font-size="20.3" textLength="224.17" lengthAdjust="spacingAndGlyphs" fill="#74c4e2" style="font-family:'Liberation Sans',sans-serif">Coulombic Efficiency (%)</text>
<circle cx="129.8" cy="692.5" r="7.3" fill="none" stroke="#c43848" stroke-width="1.7"/>
<text x="150.44" y="697.80" font-size="17.9" textLength="42.17" lengthAdjust="spacingAndGlyphs" fill="#222" style="font-family:'Liberation Sans',sans-serif">M on</text>
<text x="208.96" y="694.70" font-size="17" textLength="72.11" lengthAdjust="spacingAndGlyphs" fill="#222" style="font-family:'Liberation Sans',sans-serif">CNF/CoS</text>
<text x="281.3" y="699.5" font-size="11.5" fill="#222">x</text>
<text x="288.00" y="694.70" font-size="17" textLength="19.21" lengthAdjust="spacingAndGlyphs" fill="#222" style="font-family:'Liberation Sans',sans-serif">/S</text>
<text x="320.83" y="697.50" font-size="18.4" textLength="44.06" lengthAdjust="spacingAndGlyphs" fill="#222" style="font-family:'Liberation Sans',sans-serif">at 2C</text>
<text x="448.79" y="737.50" font-size="16.9" textLength="90.52" lengthAdjust="spacingAndGlyphs" fill="#222" style="font-family:'Liberation Sans',sans-serif">315 mAh g</text>
<text x="538.3" y="731" font-size="10.5" fill="#222">-1</text>
<path d="M534.9 747.7L612 793.8" stroke="#222" stroke-width="1.2"/><path d="M618.1 797.4L608.4 795.2L611.6 789.8Z" fill="#222"/>
<path d="M101.7 753V783.6H88" fill="none" stroke="#222" stroke-width="1.3"/><path d="M82.5 783.6L89.5 780.8V786.4Z" fill="#222"/>
<path d="M584 655.8V685H600" fill="none" stroke="#222" stroke-width="1.3"/><path d="M606 685L599 682.2V687.8Z" fill="#222"/>
<path d="M15.2 13.5C11 9.5 3 11 2.6 20.5C2.3 28.5 11.5 29.5 15.2 21M15.3 12.5C14.8 18 15 24 17 28" fill="none" stroke="#000" stroke-width="3" stroke-linecap="round" stroke-linejoin="round"/>
<path d="M342.6 2.5L342.3 28M342.5 17C344 11 357 9.5 357 19.5C357 28.5 346 29.5 342.5 27" fill="none" stroke="#000" stroke-width="3" stroke-linecap="round" stroke-linejoin="round"/>
<path d="M15.3 322.8C11.5 318.8 3 320 2.8 329C2.6 337.5 11 339.8 15.5 335.3" fill="none" stroke="#000" stroke-width="3" stroke-linecap="round" stroke-linejoin="round"/>
<path d="M20.3 591L20.3 617.3M20 605C17 598 6 599 5.5 608.5C5.5 617.5 16.5 619 20 612" fill="none" stroke="#000" stroke-width="3" stroke-linecap="round" stroke-linejoin="round"/>
</svg></body></html>
